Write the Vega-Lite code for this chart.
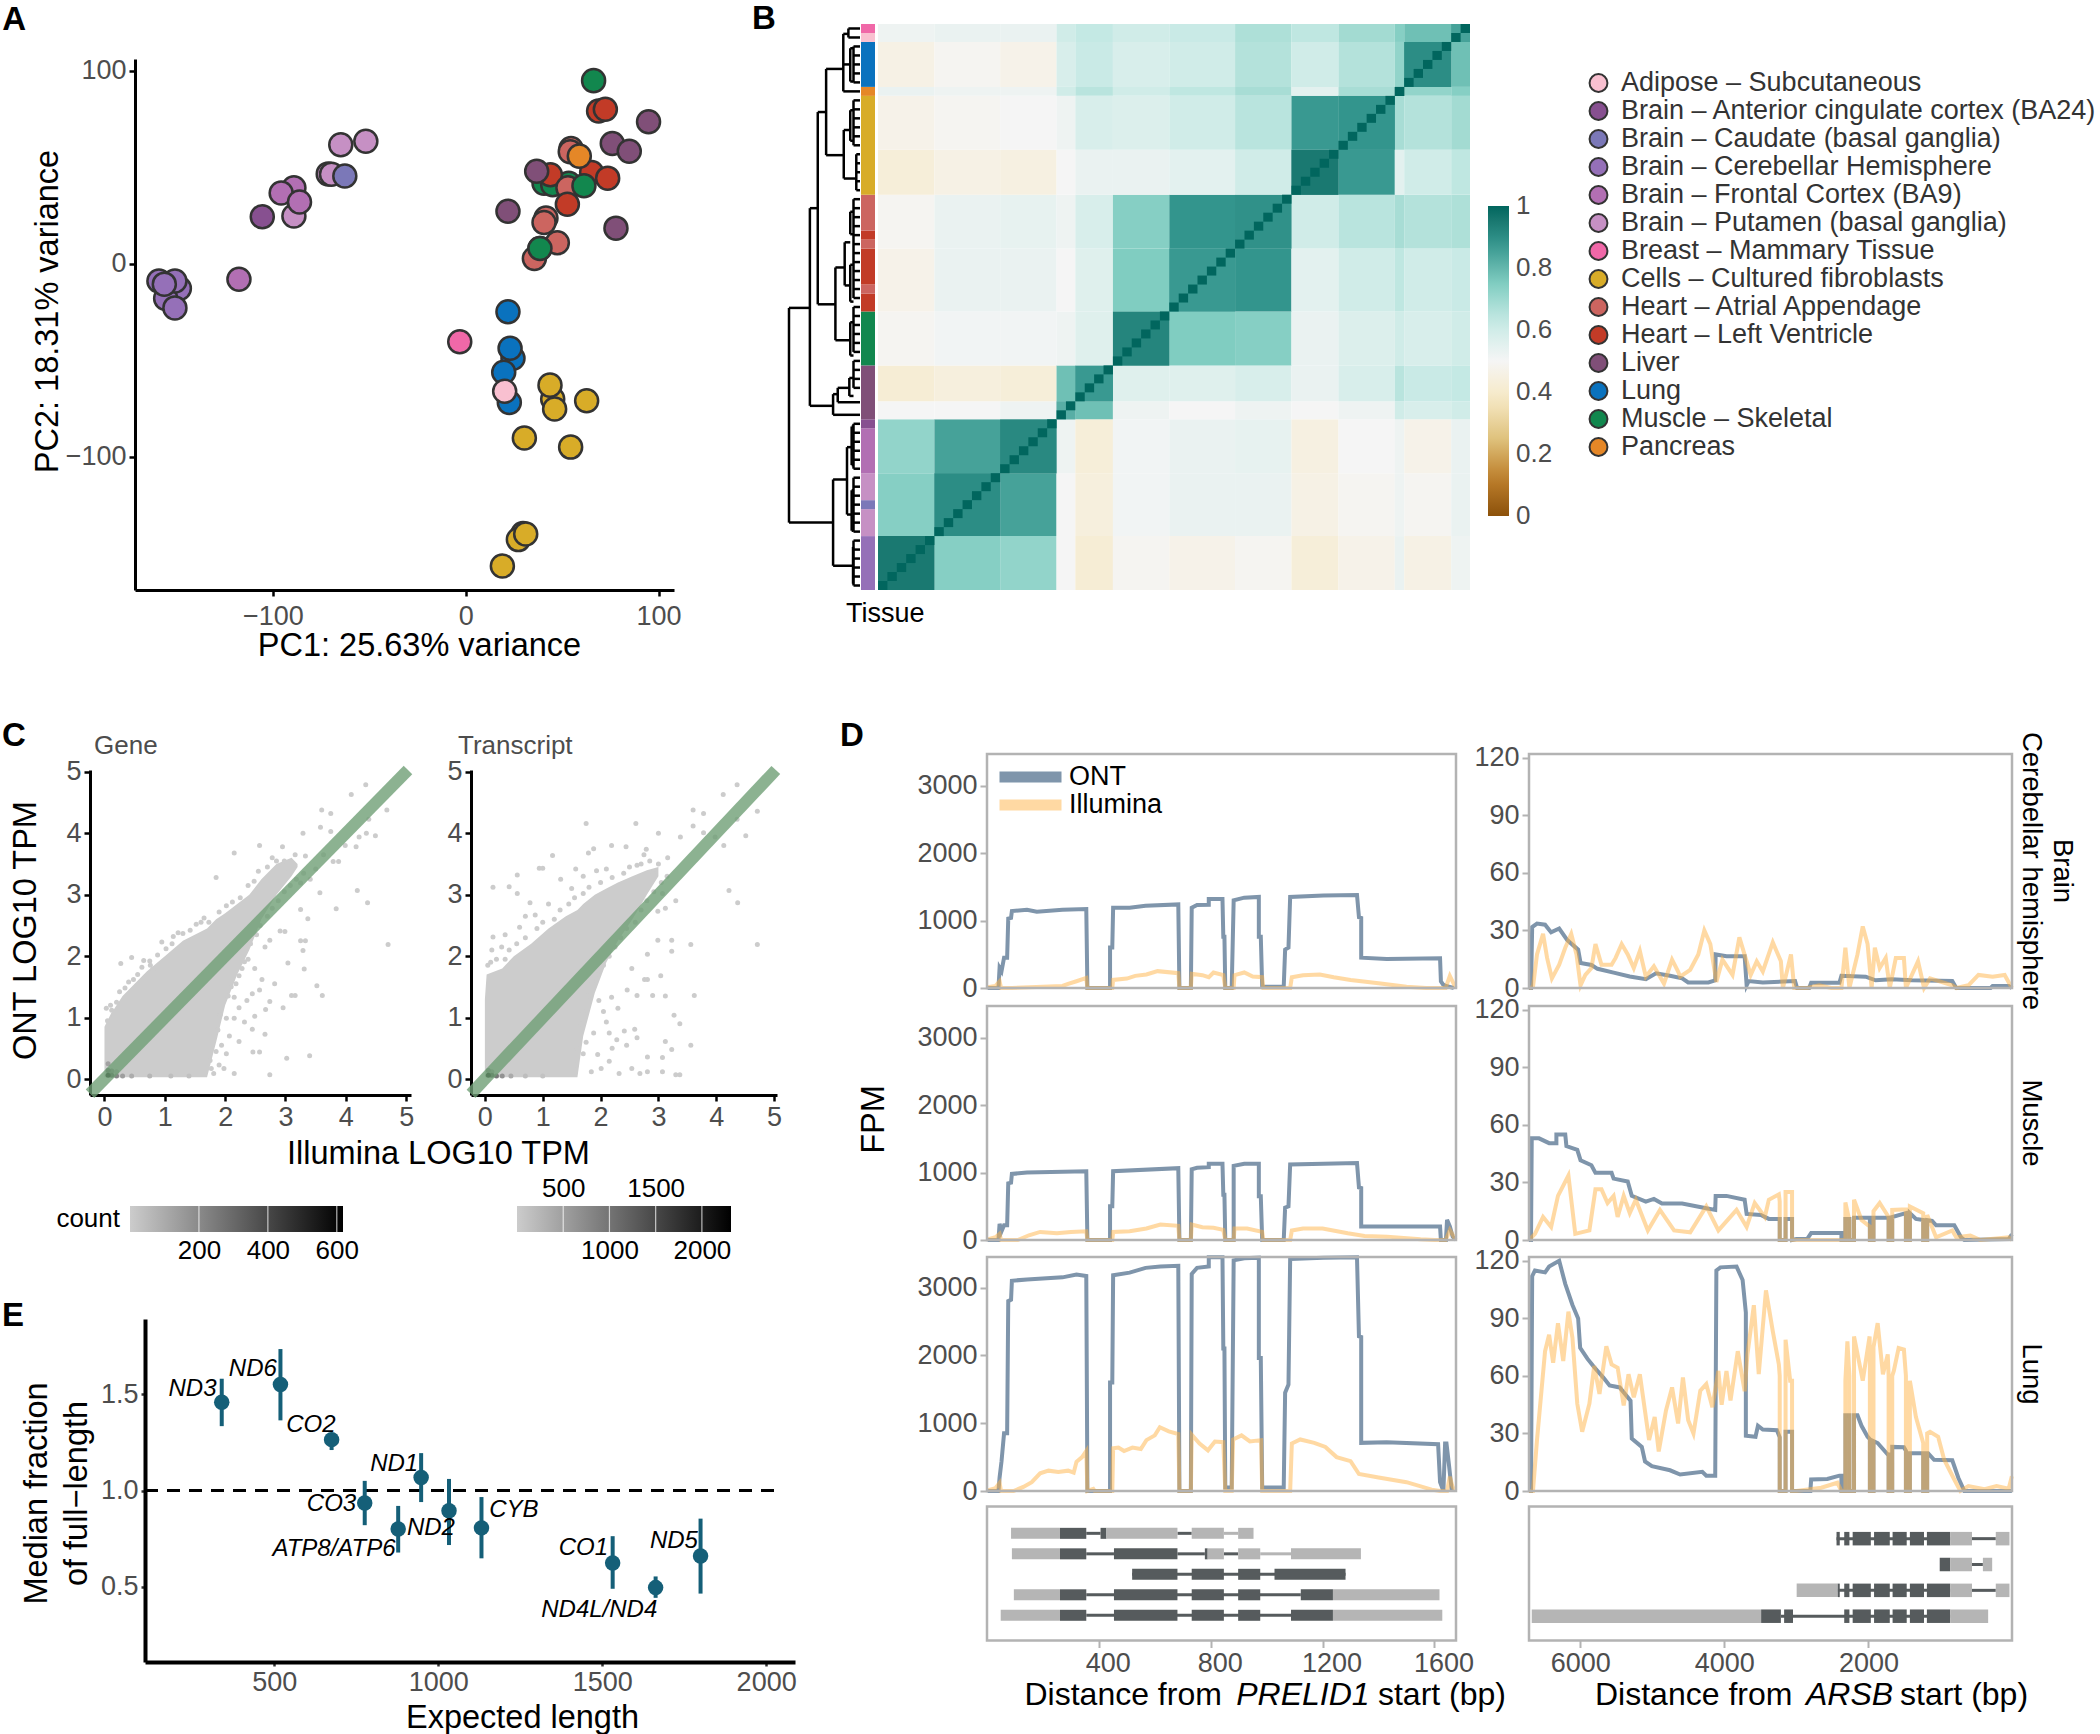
{"$schema":"https://vega.github.io/schema/vega-lite/v6.json","padding":0,"background":"white","width":2100,"height":1734,"autosize":{"type":"none"},
"config":{"font":"Liberation Sans","view":{"stroke":null},"axis":{"grid":false,"labelFontSize":27,"labelColor":"#4d4d4d","titleFontSize":32.5,"titleFontWeight":"normal","titleColor":"#000","tickColor":"#000","domainColor":"#000","domainWidth":3,"tickWidth":2.5,"tickSize":6,"labelPadding":3,"titleBaseline":"alphabetic","labelOverlap":false,"labelFlush":false}},
"resolve":{"scale":{"x":"independent","y":"independent","color":"independent","fill":"independent","strokeWidth":"independent"}},
"layer":[
{"layer":[
{"data":{"values":[
{"x":38.5,"y":7.9,"t":"Muscle – Skeletal"},{"x":66.3,"y":94.8,"t":"Muscle – Skeletal"},
{"x":68.9,"y":79.1,"t":"Heart – Left Ventricle"},{"x":72.4,"y":80,"t":"Heart – Left Ventricle"},
{"x":94.8,"y":73.5,"t":"Liver"},{"x":76,"y":62.2,"t":"Liver"},{"x":84.8,"y":58.2,"t":"Liver"},
{"x":54.6,"y":59.6,"t":"Heart – Atrial Appendage"},{"x":54.2,"y":58,"t":"Heart – Atrial Appendage"},
{"x":65.3,"y":47.2,"t":"Heart – Left Ventricle"},{"x":73.6,"y":44.3,"t":"Heart – Left Ventricle"},
{"x":40.6,"y":41.6,"t":"Muscle – Skeletal"},{"x":45.1,"y":40.9,"t":"Muscle – Skeletal"},{"x":53.4,"y":41.6,"t":"Muscle – Skeletal"},
{"x":43.9,"y":46.1,"t":"Heart – Left Ventricle"},{"x":53,"y":39.3,"t":"Heart – Atrial Appendage"},{"x":61.3,"y":40.4,"t":"Muscle – Skeletal"},
{"x":36.8,"y":47.9,"t":"Liver"},{"x":52.7,"y":30.8,"t":"Heart – Left Ventricle"},{"x":58.9,"y":55.7,"t":"Pancreas"},
{"x":21.9,"y":27.2,"t":"Liver"},{"x":77.9,"y":18.4,"t":"Liver"},
{"x":41.6,"y":23.6,"t":"Heart – Atrial Appendage"},{"x":40.6,"y":21.3,"t":"Heart – Atrial Appendage"},{"x":47.5,"y":10.8,"t":"Heart – Atrial Appendage"},{"x":35.6,"y":2.7,"t":"Heart – Atrial Appendage"},{"x":38.5,"y":7.9,"t":"Muscle – Skeletal"},
{"x":-51.8,"y":63.4,"t":"Brain – Putamen (basal ganglia)"},{"x":-64.8,"y":61.6,"t":"Brain – Putamen (basal ganglia)"},{"x":-71.3,"y":46.5,"t":"Brain – Putamen (basal ganglia)"},{"x":-69.6,"y":46.3,"t":"Brain – Putamen (basal ganglia)"},{"x":-62.7,"y":45.4,"t":"Brain – Caudate (basal ganglia)"},
{"x":-89.1,"y":24.7,"t":"Brain – Putamen (basal ganglia)"},{"x":-89.1,"y":39.3,"t":"Brain – Frontal Cortex (BA9)"},{"x":-95.7,"y":36.6,"t":"Brain – Frontal Cortex (BA9)"},{"x":-86.2,"y":31.9,"t":"Brain – Frontal Cortex (BA9)"},{"x":-117.6,"y":-8.1,"t":"Brain – Frontal Cortex (BA9)"},{"x":-105.5,"y":24.3,"t":"Brain – Anterior cingulate cortex (BA24)"},
{"x":-148.5,"y":-12.8,"t":"Brain – Cerebellar Hemisphere"},{"x":-155.6,"y":-18,"t":"Brain – Cerebellar Hemisphere"},{"x":-159.1,"y":-9,"t":"Brain – Cerebellar Hemisphere"},{"x":-150.8,"y":-9,"t":"Brain – Cerebellar Hemisphere"},{"x":-156.3,"y":-10.6,"t":"Brain – Cerebellar Hemisphere"},{"x":-150.8,"y":-22.9,"t":"Brain – Cerebellar Hemisphere"},
{"x":-3.1,"y":-40.4,"t":"Breast – Mammary Tissue"},{"x":21.9,"y":-24.9,"t":"Lung"},{"x":24.5,"y":-49,"t":"Lung"},{"x":23,"y":-43.8,"t":"Lung"},{"x":22.6,"y":-71.9,"t":"Lung"},{"x":19.7,"y":-56.2,"t":"Lung"},{"x":20.2,"y":-66.1,"t":"Adipose – Subcutaneous"},
{"x":45.1,"y":-70.1,"t":"Cells – Cultured fibroblasts"},{"x":43.7,"y":-62.9,"t":"Cells – Cultured fibroblasts"},{"x":46.1,"y":-75.3,"t":"Cells – Cultured fibroblasts"},{"x":62.7,"y":-71,"t":"Cells – Cultured fibroblasts"},{"x":30.4,"y":-90.3,"t":"Cells – Cultured fibroblasts"},{"x":54.4,"y":-95,"t":"Cells – Cultured fibroblasts"},{"x":29.7,"y":-139.8,"t":"Cells – Cultured fibroblasts"},{"x":27.3,"y":-142.9,"t":"Cells – Cultured fibroblasts"},{"x":31.1,"y":-140,"t":"Cells – Cultured fibroblasts"},{"x":19,"y":-156.6,"t":"Cells – Cultured fibroblasts"}
]},
"mark":{"type":"point","filled":true,"size":530,"stroke":"#333","strokeWidth":2.5,"opacity":1},
"encoding":{"x":{"field":"x","type":"quantitative","scale":{"domain":[-171.5,108],"range":[135,674],"nice":false,"zero":false},"axis":{"orient":"bottom","offset":-1144,"values":[-100,0,100],"labelPadding":7,"title":"PC1: 25.63% variance","titleX":419,"titleY":65}},
"y":{"field":"y","type":"quantitative","scale":{"domain":[-169,106],"range":[590,59],"nice":false,"zero":false},"axis":{"orient":"left","offset":-135,"values":[-100,0,100],"title":"PC2: 18.31% variance","titleX":-78,"titleY":311}},
"fill":{"field":"t","type":"nominal","scale":{"domain":["Adipose – Subcutaneous","Brain – Anterior cingulate cortex (BA24)","Brain – Caudate (basal ganglia)","Brain – Cerebellar Hemisphere","Brain – Frontal Cortex (BA9)","Brain – Putamen (basal ganglia)","Breast – Mammary Tissue","Cells – Cultured fibroblasts","Heart – Atrial Appendage","Heart – Left Ventricle","Liver","Lung","Muscle – Skeletal","Pancreas"],"range":["#F9C0D0","#875090","#7B78B8","#9570B8","#B26FB3","#C690C4","#F068A8","#D8AC28","#CC6560","#C23B27","#804F78","#0A72BE","#12874E","#E58727"]},
"legend":{"orient":"none","legendX":1585,"legendY":69,"title":null,"symbolSize":320,"symbolStrokeWidth":2,"symbolStrokeColor":"#333","symbolOpacity":1,"clipHeight":28,"rowPadding":0,"labelFontSize":27,"labelColor":"#333","labelOffset":9,"labelLimit":600}}}},
{"data":{"values":[{"x":-240.4,"y":121,"t":"A"}]},"mark":{"type":"text","align":"left","baseline":"alphabetic","fontSize":33,"fontWeight":"bold","color":"#000"},"encoding":{"x":{"field":"x","type":"quantitative"},"y":{"field":"y","type":"quantitative"},"text":{"field":"t"}}}
]},
{"layer":[
{"data":{"values":[{"a":153,"b":108,"y":31.6},{"a":153,"b":58,"y":55.5},{"a":108,"b":91,"y":20.5},{"a":108,"b":58,"y":42.5},{"a":91,"b":73,"y":9.8},{"a":91,"b":53,"y":31.2},{"a":73,"b":36,"y":5},{"a":73,"b":35,"y":14.6},{"a":36,"b":25,"y":1.1},{"a":36,"b":21,"y":4.5},{"a":36,"b":0,"y":7.5},{"a":25,"b":0,"y":0.5},{"a":25,"b":0,"y":1.5},{"a":35,"b":21,"y":11.8},{"a":35,"b":8,"y":17.2},{"a":53,"b":33,"y":27.1},{"a":53,"b":21,"y":35.2},{"a":33,"b":21,"y":24.3},{"a":33,"b":21,"y":29.1},{"a":58,"b":48,"y":41.2},{"a":58,"b":0,"y":43.5},{"a":48,"b":23,"y":40.5},{"a":48,"b":0,"y":42.1},{"a":58,"b":28,"y":50.7},{"a":58,"b":15,"y":60.3},{"a":28,"b":18,"y":47.1},{"a":28,"b":18,"y":54.6},
{"a":21,"b":14,"y":2.7},{"a":21,"b":14,"y":6.4},{"a":21,"b":14,"y":9.6},{"a":21,"b":14,"y":13},{"a":21,"b":14,"y":20.9},{"a":21,"b":14,"y":23.4},{"a":21,"b":14,"y":26.8},{"a":21,"b":14,"y":30.9},{"a":21,"b":14,"y":33.2},{"a":21,"b":14,"y":36.9},{"a":23,"b":14,"y":39.4},{"a":23,"b":14,"y":41.4},{"a":18,"b":14,"y":44.8},{"a":18,"b":14,"y":49.1},{"a":18,"b":14,"y":51.9},{"a":18,"b":14,"y":56.4},{"a":15,"b":14,"y":58.2},{"a":15,"b":14,"y":62.3},
{"a":14,"b":0,"y":2.5},{"a":14,"b":0,"y":3.5},{"a":14,"b":0,"y":4.5},{"a":14,"b":0,"y":5.5},{"a":14,"b":0,"y":6.5},{"a":14,"b":0,"y":8.5},{"a":14,"b":0,"y":9.5},{"a":14,"b":0,"y":10.5},{"a":14,"b":0,"y":11.5},{"a":14,"b":0,"y":12.5},{"a":14,"b":0,"y":13.5},{"a":8,"b":0,"y":14.5},{"a":8,"b":0,"y":15.5},{"a":8,"b":0,"y":16.5},{"a":8,"b":0,"y":17.5},{"a":8,"b":0,"y":18.5},{"a":14,"b":0,"y":19.5},{"a":14,"b":0,"y":20.5},{"a":14,"b":0,"y":21.5},{"a":14,"b":0,"y":22.5},{"a":14,"b":0,"y":23.5},{"a":14,"b":0,"y":24.5},{"a":14,"b":0,"y":25.5},{"a":14,"b":0,"y":26.5},{"a":14,"b":0,"y":27.5},{"a":14,"b":0,"y":28.5},{"a":14,"b":0,"y":29.5},{"a":14,"b":0,"y":30.5},{"a":14,"b":0,"y":31.5},{"a":14,"b":0,"y":32.5},{"a":14,"b":0,"y":33.5},{"a":14,"b":0,"y":34.5},{"a":14,"b":0,"y":35.5},{"a":14,"b":0,"y":36.5},{"a":14,"b":0,"y":37.5},{"a":14,"b":0,"y":38.5},{"a":14,"b":0,"y":39.5},{"a":14,"b":0,"y":40.5},{"a":14,"b":0,"y":44.5},{"a":14,"b":0,"y":45.5},{"a":14,"b":0,"y":46.5},{"a":14,"b":0,"y":47.5},{"a":14,"b":0,"y":48.5},{"a":14,"b":0,"y":49.5},{"a":14,"b":0,"y":50.5},{"a":14,"b":0,"y":51.5},{"a":14,"b":0,"y":52.5},{"a":14,"b":0,"y":53.5},{"a":14,"b":0,"y":54.5},{"a":14,"b":0,"y":55.5},{"a":14,"b":0,"y":56.5},{"a":14,"b":0,"y":57.5},{"a":14,"b":0,"y":58.5},{"a":14,"b":0,"y":59.5},{"a":14,"b":0,"y":60.5},{"a":14,"b":0,"y":61.5},{"a":14,"b":0,"y":62.5}]},
"mark":{"type":"rule","color":"#000","strokeWidth":2.5},"encoding":{"x":{"field":"a","type":"quantitative","scale":{"domain":[153,0],"range":[789,860],"nice":false,"zero":false},"axis":null},"x2":{"field":"b"},"y":{"field":"y","type":"quantitative","scale":{"domain":[0,63],"range":[24,590],"nice":false,"zero":false},"axis":null}}},
{"data":{"values":[{"h":153,"a":31.6,"b":55.5},{"h":108,"a":20.5,"b":42.5},{"h":91,"a":9.8,"b":31.2},{"h":73,"a":5,"b":14.6},{"h":36,"a":1.1,"b":7.5},{"h":25,"a":0.5,"b":1.5},{"h":21,"a":2.7,"b":6.4},{"h":35,"a":11.8,"b":17.2},{"h":21,"a":9.6,"b":13},{"h":8,"a":14.5,"b":18.5},{"h":53,"a":27.1,"b":35.2},{"h":33,"a":24.3,"b":29.1},{"h":21,"a":20.9,"b":23.4},{"h":21,"a":26.8,"b":30.9},{"h":21,"a":33.2,"b":36.9},{"h":58,"a":41.2,"b":43.5},{"h":48,"a":40.5,"b":42.1},{"h":23,"a":39.4,"b":41.4},{"h":58,"a":50.7,"b":60.3},{"h":28,"a":47.1,"b":54.6},{"h":18,"a":44.8,"b":49.1},{"h":18,"a":51.9,"b":56.4},{"h":15,"a":58.2,"b":62.3},{"h":14,"a":2.5,"b":6.5},{"h":14,"a":8.5,"b":13.5},{"h":14,"a":19.5,"b":30.5},{"h":14,"a":31.5,"b":36.5},{"h":14,"a":37.5,"b":40.5},{"h":14,"a":44.5,"b":49.5},{"h":14,"a":50.5,"b":56.5},{"h":14,"a":57.5,"b":62.5}]},
"mark":{"type":"rule","color":"#000","strokeWidth":2.5},"encoding":{"x":{"field":"h","type":"quantitative","axis":null},"y":{"field":"a","type":"quantitative","axis":null},"y2":{"field":"b"}}}
]},
{"data":{"values":[{"a":0,"b":6,"t":"Cerebellar"},{"a":6,"b":9,"t":"Putamen"},{"a":9,"b":10,"t":"Caudate"},{"a":10,"b":13,"t":"Putamen"},{"a":13,"b":18,"t":"Frontal"},{"a":18,"b":19,"t":"Anterior"},{"a":19,"b":25,"t":"Liver"},{"a":25,"b":31,"t":"Muscle"},{"a":31,"b":33,"t":"LV"},{"a":33,"b":34,"t":"AA"},{"a":34,"b":38,"t":"LV"},{"a":38,"b":39,"t":"AA"},{"a":39,"b":40,"t":"LV"},{"a":40,"b":44,"t":"AA"},{"a":44,"b":55,"t":"Fibroblasts"},{"a":55,"b":56,"t":"Pancreas"},{"a":56,"b":61,"t":"Lung"},{"a":61,"b":62,"t":"Adipose"},{"a":62,"b":63,"t":"Breast"}]},
"mark":{"type":"rect"},"encoding":{"x":{"datum":0,"type":"quantitative","scale":{"domain":[0,1],"range":[861,875],"nice":false},"axis":null},"x2":{"datum":1},"y":{"field":"a","type":"quantitative","scale":{"domain":[0,63],"range":[590,24],"nice":false},"axis":null},"y2":{"field":"b"},"fill":{"field":"t","type":"nominal","legend":null,"scale":{"domain":["Cerebellar","Putamen","Caudate","Frontal","Anterior","Liver","Muscle","LV","AA","Fibroblasts","Pancreas","Lung","Adipose","Breast"],"range":["#9570B8","#C690C4","#7B78B8","#B26FB3","#875090","#804F78","#12874E","#C23B27","#CC6560","#D8AC28","#E58727","#0A72BE","#F9C0D0","#F068A8"]}}}},
{"layer":[
{"data":{"name":"blocks","values":[
{"a":0,"b":6,"c":0,"d":6,"v":0.95},{"a":6,"b":13,"c":0,"d":6,"v":0.74},{"a":13,"b":19,"c":0,"d":6,"v":0.72},{"a":19,"b":21,"c":0,"d":6,"v":0.5},{"a":21,"b":25,"c":0,"d":6,"v":0.42},{"a":25,"b":31,"c":0,"d":6,"v":0.49},{"a":31,"b":38,"c":0,"d":6,"v":0.47},{"a":38,"b":44,"c":0,"d":6,"v":0.49},{"a":44,"b":49,"c":0,"d":6,"v":0.43},{"a":49,"b":55,"c":0,"d":6,"v":0.47},{"a":55,"b":56,"c":0,"d":6,"v":0.53},{"a":56,"b":61,"c":0,"d":6,"v":0.46},{"a":61,"b":63,"c":0,"d":6,"v":0.52},
{"a":6,"b":13,"c":6,"d":13,"v":0.9},{"a":13,"b":19,"c":6,"d":13,"v":0.85},{"a":19,"b":21,"c":6,"d":13,"v":0.5},{"a":21,"b":25,"c":6,"d":13,"v":0.44},{"a":25,"b":31,"c":6,"d":13,"v":0.51},{"a":31,"b":38,"c":6,"d":13,"v":0.53},{"a":38,"b":44,"c":6,"d":13,"v":0.53},{"a":44,"b":49,"c":6,"d":13,"v":0.46},{"a":49,"b":55,"c":6,"d":13,"v":0.49},{"a":55,"b":56,"c":6,"d":13,"v":0.52},{"a":56,"b":61,"c":6,"d":13,"v":0.49},{"a":61,"b":63,"c":6,"d":13,"v":0.53},
{"a":13,"b":19,"c":13,"d":19,"v":0.91},{"a":19,"b":21,"c":13,"d":19,"v":0.52},{"a":21,"b":25,"c":13,"d":19,"v":0.43},{"a":25,"b":31,"c":13,"d":19,"v":0.51},{"a":31,"b":38,"c":13,"d":19,"v":0.53},{"a":38,"b":44,"c":13,"d":19,"v":0.54},{"a":44,"b":49,"c":13,"d":19,"v":0.45},{"a":49,"b":55,"c":13,"d":19,"v":0.5},{"a":55,"b":56,"c":13,"d":19,"v":0.52},{"a":56,"b":61,"c":13,"d":19,"v":0.47},{"a":61,"b":63,"c":13,"d":19,"v":0.53},
{"a":19,"b":21,"c":19,"d":21,"v":0.82},{"a":21,"b":25,"c":19,"d":21,"v":0.78},{"a":25,"b":31,"c":19,"d":21,"v":0.52},{"a":31,"b":38,"c":19,"d":21,"v":0.5},{"a":38,"b":44,"c":19,"d":21,"v":0.52},{"a":44,"b":49,"c":19,"d":21,"v":0.5},{"a":49,"b":55,"c":19,"d":21,"v":0.52},{"a":55,"b":56,"c":19,"d":21,"v":0.6},{"a":56,"b":61,"c":19,"d":21,"v":0.58},{"a":61,"b":63,"c":19,"d":21,"v":0.6},
{"a":21,"b":25,"c":21,"d":25,"v":0.87},{"a":25,"b":31,"c":21,"d":25,"v":0.56},{"a":31,"b":38,"c":21,"d":25,"v":0.56},{"a":38,"b":44,"c":21,"d":25,"v":0.58},{"a":44,"b":49,"c":21,"d":25,"v":0.53},{"a":49,"b":55,"c":21,"d":25,"v":0.58},{"a":55,"b":56,"c":21,"d":25,"v":0.65},{"a":56,"b":61,"c":21,"d":25,"v":0.62},{"a":61,"b":63,"c":21,"d":25,"v":0.63},
{"a":25,"b":31,"c":25,"d":31,"v":0.92},{"a":31,"b":38,"c":25,"d":31,"v":0.75},{"a":38,"b":44,"c":25,"d":31,"v":0.74},{"a":44,"b":49,"c":25,"d":31,"v":0.53},{"a":49,"b":55,"c":25,"d":31,"v":0.57},{"a":55,"b":56,"c":25,"d":31,"v":0.6},{"a":56,"b":61,"c":25,"d":31,"v":0.58},{"a":61,"b":63,"c":25,"d":31,"v":0.6},
{"a":31,"b":38,"c":31,"d":38,"v":0.87},{"a":38,"b":44,"c":31,"d":38,"v":0.88},{"a":44,"b":49,"c":31,"d":38,"v":0.55},{"a":49,"b":55,"c":31,"d":38,"v":0.6},{"a":55,"b":56,"c":31,"d":38,"v":0.64},{"a":56,"b":61,"c":31,"d":38,"v":0.6},{"a":61,"b":63,"c":31,"d":38,"v":0.62},
{"a":38,"b":44,"c":38,"d":44,"v":0.89},{"a":44,"b":49,"c":38,"d":44,"v":0.6},{"a":49,"b":55,"c":38,"d":44,"v":0.65},{"a":55,"b":56,"c":38,"d":44,"v":0.68},{"a":56,"b":61,"c":38,"d":44,"v":0.66},{"a":61,"b":63,"c":38,"d":44,"v":0.67},
{"a":44,"b":49,"c":44,"d":49,"v":0.95},{"a":49,"b":55,"c":44,"d":49,"v":0.87},{"a":55,"b":56,"c":44,"d":49,"v":0.55},{"a":56,"b":61,"c":44,"d":49,"v":0.6},{"a":61,"b":63,"c":44,"d":49,"v":0.64},
{"a":49,"b":55,"c":49,"d":55,"v":0.88},{"a":55,"b":56,"c":49,"d":55,"v":0.68},{"a":56,"b":61,"c":49,"d":55,"v":0.66},{"a":61,"b":63,"c":49,"d":55,"v":0.69},
{"a":55,"b":56,"c":55,"d":56,"v":1},{"a":56,"b":61,"c":55,"d":56,"v":0.72},{"a":61,"b":63,"c":55,"d":56,"v":0.74},
{"a":56,"b":61,"c":56,"d":61,"v":0.9},{"a":61,"b":63,"c":56,"d":61,"v":0.78},
{"a":61,"b":63,"c":61,"d":63,"v":0.85}
]},
"mark":{"type":"rect"},"encoding":{"x":{"field":"a","type":"quantitative","scale":{"domain":[0,63],"range":[878,1470],"nice":false,"zero":false},"axis":null},"x2":{"field":"b"},"y":{"field":"c","type":"quantitative","scale":{"domain":[0,63],"range":[590,24],"nice":false,"zero":false},"axis":null},"y2":{"field":"d"},
"color":{"field":"v","type":"quantitative","scale":{"domain":[0,1],"range":["#8C510A","#BF812D","#DFC27D","#F6E8C3","#F5F5F5","#C7EAE5","#80CDC1","#35978F","#01665E"]},"legend":{"orient":"none","direction":"vertical","legendX":1488,"legendY":206,"title":null,"gradientLength":310,"gradientThickness":21,"values":[0,0.2,0.4,0.6,0.8,1],"format":"~g","labelFontSize":26,"labelColor":"#4d4d4d","labelOffset":7,"gradientStrokeWidth":0,"encode":{"labels":{"update":{"baseline":{"value":"middle"}}}}}}}},
{"data":{"name":"blocks"},"mark":{"type":"rect"},"encoding":{"x":{"field":"c","type":"quantitative","axis":null},"x2":{"field":"d"},"y":{"field":"a","type":"quantitative","axis":null},"y2":{"field":"b"},"color":{"field":"v","type":"quantitative"}}},
{"data":{"values":[{"i":0,"j":1,"v":1},{"i":1,"j":2,"v":1},{"i":2,"j":3,"v":1},{"i":3,"j":4,"v":1},{"i":4,"j":5,"v":1},{"i":5,"j":6,"v":1},{"i":6,"j":7,"v":1},{"i":7,"j":8,"v":1},{"i":8,"j":9,"v":1},{"i":9,"j":10,"v":1},{"i":10,"j":11,"v":1},{"i":11,"j":12,"v":1},{"i":12,"j":13,"v":1},{"i":13,"j":14,"v":1},{"i":14,"j":15,"v":1},{"i":15,"j":16,"v":1},{"i":16,"j":17,"v":1},{"i":17,"j":18,"v":1},{"i":18,"j":19,"v":1},{"i":19,"j":20,"v":1},{"i":20,"j":21,"v":1},{"i":21,"j":22,"v":1},{"i":22,"j":23,"v":1},{"i":23,"j":24,"v":1},{"i":24,"j":25,"v":1},{"i":25,"j":26,"v":1},{"i":26,"j":27,"v":1},{"i":27,"j":28,"v":1},{"i":28,"j":29,"v":1},{"i":29,"j":30,"v":1},{"i":30,"j":31,"v":1},{"i":31,"j":32,"v":1},{"i":32,"j":33,"v":1},{"i":33,"j":34,"v":1},{"i":34,"j":35,"v":1},{"i":35,"j":36,"v":1},{"i":36,"j":37,"v":1},{"i":37,"j":38,"v":1},{"i":38,"j":39,"v":1},{"i":39,"j":40,"v":1},{"i":40,"j":41,"v":1},{"i":41,"j":42,"v":1},{"i":42,"j":43,"v":1},{"i":43,"j":44,"v":1},{"i":44,"j":45,"v":1},{"i":45,"j":46,"v":1},{"i":46,"j":47,"v":1},{"i":47,"j":48,"v":1},{"i":48,"j":49,"v":1},{"i":49,"j":50,"v":1},{"i":50,"j":51,"v":1},{"i":51,"j":52,"v":1},{"i":52,"j":53,"v":1},{"i":53,"j":54,"v":1},{"i":54,"j":55,"v":1},{"i":55,"j":56,"v":1},{"i":56,"j":57,"v":1},{"i":57,"j":58,"v":1},{"i":58,"j":59,"v":1},{"i":59,"j":60,"v":1},{"i":60,"j":61,"v":1},{"i":61,"j":62,"v":1},{"i":62,"j":63,"v":1}]},
"mark":{"type":"rect"},"encoding":{"x":{"field":"i","type":"quantitative","axis":null},"x2":{"field":"j"},"y":{"field":"i","type":"quantitative","axis":null},"y2":{"field":"j"},"color":{"field":"v","type":"quantitative"}}},
{"data":{"values":[{"x":-13.4,"y":62.4,"t":"B"}]},"mark":{"type":"text","align":"left","baseline":"alphabetic","fontSize":33,"fontWeight":"bold","color":"#000"},"encoding":{"x":{"field":"x","type":"quantitative","axis":null},"y":{"field":"y","type":"quantitative","axis":null},"text":{"field":"t"}}},
{"data":{"values":[{"x":-3.41,"y":-3.56,"t":"Tissue"}]},"mark":{"type":"text","align":"left","baseline":"alphabetic","fontSize":27,"color":"#000"},"encoding":{"x":{"field":"x","type":"quantitative","axis":null},"y":{"field":"y","type":"quantitative","axis":null},"text":{"field":"t"}}}
]},
{"layer":[
{"data":{"values":[{"x":0,"u":0.85,"l":0.03},{"x":0.1,"u":1.05,"l":0.03},{"x":0.3,"u":1.35,"l":0.03},{"x":0.5,"u":1.55,"l":0.03},{"x":0.7,"u":1.75,"l":0.03},{"x":1,"u":2,"l":0.03},{"x":1.3,"u":2.25,"l":0.03},{"x":1.7,"u":2.45,"l":0.03},{"x":1.85,"u":2.6,"l":0.6},{"x":2,"u":2.7,"l":1.2},{"x":2.2,"u":2.85,"l":1.7},{"x":2.4,"u":3,"l":2.1},{"x":2.6,"u":3.25,"l":2.6},{"x":2.85,"u":3.5,"l":3},{"x":3.1,"u":3.6,"l":3.3},{"x":3.2,"u":3.5,"l":3.45}]},
"mark":{"type":"area","color":"#cccccc"},"encoding":{"x":{"field":"x","type":"quantitative","scale":{"domain":[-0.24,5.08],"range":[90,411],"nice":false,"zero":false},"axis":{"orient":"bottom","offset":-639,"values":[0,1,2,3,4,5],"format":"d","title":"Illumina LOG10 TPM","titleX":438,"titleY":68}},"y":{"field":"u","type":"quantitative","scale":{"domain":[-0.26,5.03],"range":[1095,770],"nice":false,"zero":false},"axis":{"orient":"left","offset":-90,"values":[0,1,2,3,4,5],"format":"d","title":"ONT LOG10 TPM","titleX":-55,"titleY":930}},"y2":{"field":"l"}}},
{"data":{"values":[{"x":0.05,"y":0.95,"n":1},{"x":0.12,"y":1.12,"n":1},{"x":0.2,"y":1.25,"n":1},{"x":0.25,"y":1.42,"n":1},{"x":0.4,"y":1.58,"n":1},{"x":0.55,"y":1.7,"n":1},{"x":0.62,"y":1.82,"n":1},{"x":0.75,"y":1.92,"n":1},{"x":0.88,"y":2.02,"n":1},{"x":1.02,"y":2.12,"n":1},{"x":1.12,"y":2.2,"n":1},{"x":1.22,"y":2.38,"n":1},{"x":1.42,"y":2.42,"n":1},{"x":1.6,"y":2.55,"n":1},{"x":1.65,"y":2.62,"n":1},{"x":1.9,"y":2.72,"n":1},{"x":2.02,"y":2.82,"n":1},{"x":2.12,"y":2.88,"n":1},{"x":2.25,"y":2.95,"n":1},{"x":2.38,"y":3.15,"n":1},{"x":2.48,"y":3.22,"n":1},{"x":2.55,"y":3.38,"n":1},{"x":2.7,"y":3.45,"n":1},{"x":2.78,"y":3.6,"n":1},{"x":2.85,"y":3.55,"n":1},{"x":2.98,"y":3.55,"n":1},{"x":3.05,"y":3.42,"n":1},{"x":1.75,"y":0.3,"n":1},{"x":1.85,"y":0.45,"n":1},{"x":1.88,"y":0.8,"n":1},{"x":1.92,"y":1.05,"n":1},{"x":2.05,"y":1.35,"n":1},{"x":2.1,"y":1.5,"n":1},{"x":2.18,"y":1.55,"n":1},{"x":2.28,"y":1.8,"n":1},{"x":2.38,"y":1.95,"n":1},{"x":2.42,"y":2.2,"n":1},{"x":2.52,"y":2.35,"n":1},{"x":2.58,"y":2.5,"n":1},{"x":2.7,"y":2.65,"n":1},{"x":2.78,"y":2.78,"n":1},{"x":2.88,"y":2.9,"n":1},{"x":2.98,"y":3.05,"n":1},{"x":3.08,"y":3.15,"n":1},{"x":3.18,"y":3.25,"n":1},{"x":3.3,"y":3.35,"n":1},
{"x":0.03,"y":1.15,"n":1},{"x":0.1,"y":1.2,"n":1},{"x":0.15,"y":1.05,"n":1},{"x":0.27,"y":1.88,"n":1},{"x":0.45,"y":1.98,"n":1},{"x":0.65,"y":1.93,"n":1},{"x":0.95,"y":2.23,"n":1},{"x":0.34,"y":1.48,"n":1},{"x":0.48,"y":1.62,"n":1},{"x":0.8,"y":1.79,"n":1},{"x":0.76,"y":1.85,"n":1},{"x":1.14,"y":2.32,"n":1},{"x":1.3,"y":2.37,"n":1},{"x":1.52,"y":2.52,"n":1},{"x":1.73,"y":2.55,"n":1},{"x":1.85,"y":3.28,"n":1},{"x":2.15,"y":3.68,"n":1},{"x":2.57,"y":3.8,"n":1},{"x":2.95,"y":3.78,"n":1},{"x":3.29,"y":4,"n":1},{"x":3.6,"y":4.38,"n":1},{"x":3.75,"y":4.32,"n":1},{"x":4.09,"y":4.63,"n":1},{"x":4.33,"y":4.79,"n":1},{"x":3.58,"y":4.1,"n":1},{"x":3.75,"y":4.03,"n":1},{"x":4.22,"y":3.94,"n":1},{"x":4.49,"y":3.96,"n":1},{"x":4.38,"y":4.23,"n":1},{"x":4.68,"y":4.38,"n":1},{"x":3.99,"y":3.8,"n":1},{"x":4.17,"y":3.78,"n":1},{"x":4.34,"y":4,"n":1},{"x":4.19,"y":3.07,"n":1},{"x":4.36,"y":2.87,"n":1},{"x":3.84,"y":2.77,"n":1},{"x":3.57,"y":3.03,"n":1},{"x":3.25,"y":2.76,"n":1},{"x":3.37,"y":2.61,"n":1},{"x":4.7,"y":2.19,"n":1},{"x":3.33,"y":2.25,"n":1},{"x":3.25,"y":2.25,"n":1},{"x":3.29,"y":2.09,"n":1},{"x":3.04,"y":1.89,"n":1},{"x":3.31,"y":1.79,"n":1},{"x":3.52,"y":1.52,"n":1},{"x":3.61,"y":1.36,"n":1},{"x":3.16,"y":1.36,"n":1},{"x":3.1,"y":1.36,"n":1},{"x":2.96,"y":1.16,"n":1},{"x":2.74,"y":1.26,"n":1},{"x":2.67,"y":1.13,"n":1},{"x":2.49,"y":1.02,"n":1},{"x":2.45,"y":1.39,"n":1},{"x":2.82,"y":1.55,"n":1},{"x":2.61,"y":1.62,"n":1},{"x":2.91,"y":2.41,"n":1},{"x":2.99,"y":2.4,"n":1},{"x":2.74,"y":2.26,"n":1},{"x":2.66,"y":2.15,"n":1},{"x":2.49,"y":1.8,"n":1},{"x":2.23,"y":1.68,"n":1},{"x":2.32,"y":1.91,"n":1},{"x":2.15,"y":1.33,"n":1},{"x":2.15,"y":0.99,"n":1},{"x":2.32,"y":0.93,"n":1},{"x":2.45,"y":0.81,"n":1},{"x":2.66,"y":0.73,"n":1},{"x":2.07,"y":0.7,"n":1},{"x":2.23,"y":0.61,"n":1},{"x":2.46,"y":0.44,"n":1},{"x":2.57,"y":0.44,"n":1},{"x":2.02,"y":0.41,"n":1},{"x":2.15,"y":0.09,"n":1},{"x":2.74,"y":0.07,"n":1},{"x":3.02,"y":0.34,"n":1},{"x":3.4,"y":0.38,"n":1},{"x":1.9,"y":0.23,"n":1},{"x":1.98,"y":0.17,"n":1},{"x":1.81,"y":0.09,"n":1},{"x":1.77,"y":0.17,"n":1},{"x":1.94,"y":0.55,"n":1},{"x":2.02,"y":0.99,"n":1},{"x":2.23,"y":1.16,"n":1},{"x":2.36,"y":1.28,"n":1},{"x":2.57,"y":1.45,"n":1},{"x":3.25,"y":3.19,"n":1},{"x":3.41,"y":3.25,"n":1},{"x":3.5,"y":3.42,"n":1},{"x":3.79,"y":3.54,"n":1},{"x":3.88,"y":3.54,"n":1},{"x":3.63,"y":3.65,"n":1},{"x":3.33,"y":3.63,"n":1},{"x":3.16,"y":3.65,"n":1},{"x":1.4,"y":0.05,"n":30},{"x":1.1,"y":0.05,"n":40},{"x":0.75,"y":0.05,"n":60},{"x":0.06,"y":0.25,"n":120},{"x":0.45,"y":0.05,"n":90},{"x":0.3,"y":0.05,"n":130},{"x":0.2,"y":0.12,"n":110},{"x":0.2,"y":0.05,"n":200},{"x":0.12,"y":0.13,"n":200},{"x":0.06,"y":0.14,"n":300},{"x":0.12,"y":0.06,"n":350},{"x":0.06,"y":0.06,"n":620}]},
"mark":{"type":"point","filled":true,"size":25,"opacity":1},"encoding":{"x":{"field":"x","type":"quantitative"},"y":{"field":"y","type":"quantitative"},"color":{"field":"n","type":"quantitative","scale":{"domain":[1,620],"range":["#cccccc","#000000"]},"legend":null}}},
{"data":{"values":[{"x":-0.24,"y":-0.24},{"x":5.03,"y":5.03}]},"mark":{"type":"line","color":"#6f9f76","opacity":0.8,"strokeWidth":12},"encoding":{"x":{"field":"x","type":"quantitative"},"y":{"field":"y","type":"quantitative"}}},
{"data":{"values":[{"x":-1.7,"y":5.42,"t":"C"}]},"mark":{"type":"text","align":"left","baseline":"alphabetic","fontSize":33,"fontWeight":"bold","color":"#000"},"encoding":{"x":{"field":"x","type":"quantitative"},"y":{"field":"y","type":"quantitative"},"text":{"field":"t"}}},
{"data":{"values":[{"x":-0.174,"y":5.29,"t":"Gene"}]},"mark":{"type":"text","align":"left","baseline":"alphabetic","fontSize":26,"color":"#4d4d4d"},"encoding":{"x":{"field":"x","type":"quantitative"},"y":{"field":"y","type":"quantitative"},"text":{"field":"t"}}}
]},
{"layer":[
{"data":{"values":[{"x":0,"u":1.3,"l":0.03},{"x":0.03,"u":1.7,"l":0.03},{"x":0.3,"u":1.8,"l":0.03},{"x":0.5,"u":2,"l":0.03},{"x":0.8,"u":2.2,"l":0.03},{"x":1.1,"u":2.45,"l":0.03},{"x":1.4,"u":2.65,"l":0.03},{"x":1.6,"u":2.75,"l":0.03},{"x":1.7,"u":2.85,"l":0.7},{"x":1.9,"u":3,"l":1.4},{"x":2.1,"u":3.1,"l":1.9},{"x":2.3,"u":3.2,"l":2.25},{"x":2.55,"u":3.3,"l":2.6},{"x":2.8,"u":3.4,"l":3},{"x":3,"u":3.45,"l":3.3}]},
"mark":{"type":"area","color":"#cccccc"},"encoding":{"x":{"field":"x","type":"quantitative","scale":{"domain":[-0.24,5.05],"range":[471,777],"nice":false,"zero":false},"axis":{"orient":"bottom","offset":-639,"values":[0,1,2,3,4,5],"format":"d","title":null}},"y":{"field":"u","type":"quantitative","scale":{"domain":[-0.26,5.03],"range":[1095,770],"nice":false,"zero":false},"axis":{"orient":"left","offset":-471,"values":[0,1,2,3,4,5],"format":"d","title":null}},"y2":{"field":"l"}}},
{"data":{"values":[{"x":0.05,"y":1.85,"n":1},{"x":0.1,"y":1.9,"n":1},{"x":0.2,"y":1.95,"n":1},{"x":0.35,"y":1.95,"n":1},{"x":0.42,"y":2.1,"n":1},{"x":0.55,"y":2.2,"n":1},{"x":0.7,"y":2.3,"n":1},{"x":0.9,"y":2.45,"n":1},{"x":1,"y":2.55,"n":1},{"x":1.2,"y":2.6,"n":1},{"x":1.3,"y":2.75,"n":1},{"x":1.45,"y":2.85,"n":1},{"x":1.55,"y":2.95,"n":1},{"x":1.7,"y":3.02,"n":1},{"x":1.8,"y":3.12,"n":1},{"x":2,"y":3.2,"n":1},{"x":2.2,"y":3.28,"n":1},{"x":2.4,"y":3.35,"n":1},{"x":2.5,"y":3.45,"n":1},{"x":2.7,"y":3.5,"n":1},{"x":2.85,"y":3.55,"n":1},{"x":3,"y":3.5,"n":1},{"x":2.75,"y":3.65,"n":1},{"x":1.7,"y":3.3,"n":1},{"x":1.5,"y":3.1,"n":1},{"x":1.1,"y":2.85,"n":1},{"x":0.7,"y":2.65,"n":1},{"x":0.35,"y":2.35,"n":1},{"x":0.12,"y":2.1,"n":1},{"x":1.6,"y":0.5,"n":1},{"x":1.65,"y":0.9,"n":1},{"x":1.7,"y":1.1,"n":1},{"x":1.78,"y":1.35,"n":1},{"x":1.85,"y":1.6,"n":1},{"x":1.95,"y":1.7,"n":1},{"x":2.05,"y":1.85,"n":1},{"x":2.15,"y":2,"n":1},{"x":2.25,"y":2.15,"n":1},{"x":2.35,"y":2.3,"n":1},{"x":2.45,"y":2.45,"n":1},{"x":2.6,"y":2.55,"n":1},{"x":2.7,"y":2.75,"n":1},{"x":2.8,"y":2.9,"n":1},{"x":2.92,"y":3.05,"n":1},{"x":3.05,"y":3.2,"n":1},{"x":3.15,"y":3.3,"n":1},{"x":1.75,"y":0.6,"n":1},{"x":1.95,"y":0.4,"n":1},{"x":2.2,"y":0.5,"n":1},{"x":2.05,"y":1.1,"n":1},{"x":2.3,"y":1.15,"n":1},{"x":2.15,"y":0.75,"n":1},{"x":2.45,"y":0.55,"n":1},
{"x":0.14,"y":2.31,"n":1},{"x":0.14,"y":3.12,"n":1},{"x":0.42,"y":3.13,"n":1},{"x":0.56,"y":3.32,"n":1},{"x":0.56,"y":3.02,"n":1},{"x":0.94,"y":3.43,"n":1},{"x":1,"y":3.43,"n":1},{"x":1.17,"y":3.64,"n":1},{"x":1.75,"y":4.16,"n":1},{"x":2.61,"y":4.16,"n":1},{"x":1.79,"y":3.68,"n":1},{"x":1.88,"y":3.75,"n":1},{"x":2.19,"y":3.8,"n":1},{"x":2.44,"y":3.78,"n":1},{"x":2.79,"y":3.74,"n":1},{"x":3,"y":4,"n":1},{"x":3.38,"y":3.94,"n":1},{"x":3.6,"y":4.38,"n":1},{"x":3.78,"y":4.32,"n":1},{"x":4.12,"y":4.63,"n":1},{"x":4.36,"y":4.79,"n":1},{"x":3.6,"y":4.12,"n":1},{"x":3.78,"y":4.01,"n":1},{"x":3.98,"y":3.94,"n":1},{"x":4.13,"y":3.8,"n":1},{"x":4.51,"y":3.96,"n":1},{"x":4.71,"y":4.36,"n":1},{"x":4.36,"y":4.23,"n":1},{"x":4.22,"y":3.07,"n":1},{"x":4.37,"y":2.87,"n":1},{"x":3.56,"y":2.19,"n":1},{"x":4.71,"y":2.19,"n":1},{"x":3.12,"y":2.78,"n":1},{"x":3.3,"y":2.9,"n":1},{"x":2.99,"y":2.26,"n":1},{"x":3.23,"y":2.26,"n":1},{"x":3.23,"y":2.08,"n":1},{"x":3.04,"y":1.68,"n":1},{"x":2.81,"y":1.62,"n":1},{"x":3.62,"y":1.36,"n":1},{"x":3.12,"y":1.35,"n":1},{"x":2.9,"y":1.36,"n":1},{"x":3.27,"y":1.04,"n":1},{"x":3.37,"y":0.9,"n":1},{"x":2.63,"y":0.67,"n":1},{"x":3.12,"y":0.61,"n":1},{"x":3.56,"y":0.55,"n":1},{"x":3.23,"y":0.48,"n":1},{"x":2.81,"y":0.36,"n":1},{"x":3.07,"y":0.35,"n":1},{"x":3.07,"y":0.12,"n":1},{"x":3.3,"y":0.07,"n":1},{"x":3.37,"y":0.07,"n":1},{"x":2.81,"y":0.12,"n":1},{"x":2.68,"y":0.09,"n":1},{"x":2.54,"y":0.17,"n":1},{"x":2.32,"y":0.09,"n":1},{"x":2.15,"y":0.29,"n":1},{"x":2.01,"y":0.17,"n":1},{"x":1.84,"y":0.12,"n":1},{"x":1.7,"y":0.41,"n":1},{"x":1.57,"y":0.23,"n":1},{"x":1.88,"y":0.75,"n":1},{"x":2.1,"y":0.93,"n":1},{"x":2.28,"y":0.64,"n":1},{"x":2.41,"y":0.78,"n":1},{"x":2.59,"y":0.81,"n":1},{"x":1.97,"y":1.28,"n":1},{"x":2.19,"y":1.33,"n":1},{"x":2.46,"y":1.45,"n":1},{"x":2.63,"y":1.36,"n":1},{"x":2.76,"y":1.62,"n":1},{"x":2.54,"y":1.8,"n":1},{"x":2.81,"y":2.03,"n":1},{"x":2.99,"y":2.73,"n":1},{"x":3.07,"y":3.02,"n":1},{"x":2.9,"y":3.36,"n":1},{"x":3.16,"y":3.6,"n":1},{"x":2.63,"y":3.48,"n":1},{"x":1.31,"y":3.25,"n":1},{"x":1.57,"y":3.42,"n":1},{"x":0.78,"y":2.87,"n":1},{"x":0.87,"y":2.67,"n":1},{"x":0.6,"y":2.47,"n":1},{"x":0.29,"y":2.15,"n":1},{"x":1.93,"y":3.39,"n":1},{"x":2.1,"y":3.42,"n":1},{"x":1,"y":0.05,"n":100},{"x":0.7,"y":0.05,"n":150},{"x":0.45,"y":0.05,"n":350},{"x":0.3,"y":0.05,"n":600},{"x":0.12,"y":0.12,"n":500},{"x":0.06,"y":0.14,"n":800},{"x":0.2,"y":0.05,"n":900},{"x":0.12,"y":0.06,"n":1400},{"x":0.06,"y":0.06,"n":2300}]},
"mark":{"type":"point","filled":true,"size":25,"opacity":1},"encoding":{"x":{"field":"x","type":"quantitative"},"y":{"field":"y","type":"quantitative"},"color":{"field":"n","type":"quantitative","scale":{"domain":[1,2300],"range":["#cccccc","#000000"]},"legend":null}}},
{"data":{"values":[{"x":-0.24,"y":-0.24},{"x":5.03,"y":5.03}]},"mark":{"type":"line","color":"#6f9f76","opacity":0.8,"strokeWidth":12},"encoding":{"x":{"field":"x","type":"quantitative"},"y":{"field":"y","type":"quantitative"}}},
{"data":{"values":[{"x":-0.465,"y":5.29,"t":"Transcript"}]},"mark":{"type":"text","align":"left","baseline":"alphabetic","fontSize":26,"color":"#4d4d4d"},"encoding":{"x":{"field":"x","type":"quantitative"},"y":{"field":"y","type":"quantitative"},"text":{"field":"t"}}}
]},
{"layer":[
{"data":{"values":[{"a":0,"b":618}]},"mark":{"type":"rect","color":{"x1":0,"y1":0,"x2":1,"y2":0,"gradient":"linear","stops":[{"offset":0,"color":"#cccccc"},{"offset":1,"color":"#000000"}]}},"encoding":{"x":{"field":"a","type":"quantitative","scale":{"domain":[0,618],"range":[130,343],"nice":false},"axis":{"orient":"bottom","offset":-502,"values":[200,400,600],"title":null,"domain":false,"ticks":false,"labelColor":"#000","labelFontSize":26,"labelPadding":5}},"x2":{"field":"b"},"y":{"datum":0,"type":"quantitative","scale":{"domain":[0,1],"range":[1232,1206],"nice":false},"axis":null},"y2":{"datum":1}}},
{"data":{"values":[{"v":200},{"v":400},{"v":600}]},"mark":{"type":"rule","color":"#fff","strokeWidth":1.2,"opacity":0.7},"encoding":{"x":{"field":"v","type":"quantitative"},"y":{"datum":0,"type":"quantitative","axis":null},"y2":{"datum":1}}},
{"data":{"values":[{"x":-29,"t":"count"}]},"mark":{"type":"text","align":"right","baseline":"middle","fontSize":26,"color":"#000"},"encoding":{"x":{"field":"x","type":"quantitative"},"y":{"datum":0.5,"type":"quantitative","axis":null},"text":{"field":"t"}}}
]},
{"layer":[
{"data":{"values":[{"a":0,"b":2315}]},"mark":{"type":"rect","color":{"x1":0,"y1":0,"x2":1,"y2":0,"gradient":"linear","stops":[{"offset":0,"color":"#cccccc"},{"offset":1,"color":"#000000"}]}},"encoding":{"x":{"field":"a","type":"quantitative","scale":{"domain":[0,2315],"range":[517,731],"nice":false},"axis":{"orient":"bottom","offset":-502,"values":[1000,2000],"format":"d","title":null,"domain":false,"ticks":false,"labelColor":"#000","labelFontSize":26,"labelPadding":5}},"x2":{"field":"b"},"y":{"datum":0,"type":"quantitative","scale":{"domain":[0,1],"range":[1232,1206],"nice":false},"axis":null},"y2":{"datum":1}}}
]},
{"data":{"values":[{"v":500},{"v":1000},{"v":1500},{"v":2000}]},"mark":{"type":"rule","color":"#fff","strokeWidth":1.2,"opacity":0.7},"encoding":{"x":{"field":"v","type":"quantitative","scale":{"domain":[0,2315],"range":[517,731],"nice":false},"axis":{"orient":"top","offset":-1206,"values":[500,1500],"format":"d","title":null,"domain":false,"ticks":false,"labelColor":"#000","labelFontSize":26,"labelPadding":5}},"y":{"datum":0,"type":"quantitative","scale":{"domain":[0,1],"range":[1232,1206],"nice":false},"axis":null},"y2":{"datum":1}}},
{"layer":[
{"data":{"values":[{"a":106,"b":2048,"y":1}]},"mark":{"type":"rule","color":"#000","strokeWidth":3,"strokeDash":[13,9]},"encoding":{"x":{"field":"a","type":"quantitative","scale":{"domain":[106,2088],"range":[145,795],"nice":false,"zero":false},"axis":{"orient":"bottom","offset":-72,"values":[500,1000,1500,2000],"format":"d","title":"Expected length","titleX":522,"titleY":65,"domainWidth":4,"tickColor":"#333","tickSize":4}},"x2":{"field":"b"},"y":{"field":"y","type":"quantitative","scale":{"domain":[0.11,1.89],"range":[1662,1319],"nice":false,"zero":false},"axis":{"orient":"left","offset":-145,"values":[0.5,1,1.5],"format":".1f","title":["Median fraction","of full−length"],"titleX":-99,"titleY":1493,"titleLineHeight":40,"domainWidth":4,"tickColor":"#333","tickSize":4}}}},
{"data":{"name":"mito","values":[{"x":340,"y":1.458,"lo":1.334,"hi":1.58,"g":"ND3","lx":324,"ly":1.528},{"x":519,"y":1.55,"lo":1.364,"hi":1.734,"g":"ND6","lx":508,"ly":1.631},{"x":675,"y":1.264,"lo":1.21,"hi":1.3,"g":"CO2","lx":687,"ly":1.34},{"x":776,"y":0.935,"lo":0.82,"hi":1.05,"g":"CO3","lx":750,"ly":0.928},{"x":878,"y":0.8,"lo":0.678,"hi":0.92,"g":"ATP8/ATP6","lx":870,"ly":0.695},{"x":948,"y":1.067,"lo":0.94,"hi":1.194,"g":"ND1","lx":939,"ly":1.137},{"x":1033,"y":0.895,"lo":0.717,"hi":1.06,"g":"ND2","lx":1051,"ly":0.806},{"x":1132,"y":0.806,"lo":0.648,"hi":0.966,"g":"CYB","lx":1306,"ly":0.9},{"x":1532,"y":0.624,"lo":0.49,"hi":0.763,"g":"CO1","lx":1518,"ly":0.7},{"x":1663,"y":0.496,"lo":0.443,"hi":0.554,"g":"ND4L/ND4","lx":1668,"ly":0.38},{"x":1800,"y":0.66,"lo":0.465,"hi":0.854,"g":"ND5","lx":1792,"ly":0.738}]},
"mark":{"type":"rule","color":"#155F78","strokeWidth":4},"encoding":{"x":{"field":"x","type":"quantitative"},"y":{"field":"lo","type":"quantitative"},"y2":{"field":"hi"}}},
{"data":{"name":"mito"},"mark":{"type":"point","filled":true,"size":240,"color":"#155F78","opacity":1},"encoding":{"x":{"field":"x","type":"quantitative"},"y":{"field":"y","type":"quantitative"}}},
{"data":{"name":"mito"},"mark":{"type":"text","align":"right","baseline":"middle","fontStyle":"italic","fontSize":24,"color":"#000"},"encoding":{"x":{"field":"lx","type":"quantitative"},"y":{"field":"ly","type":"quantitative"},"text":{"field":"g"}}},
{"data":{"values":[{"x":-330,"y":1.854,"t":"E"}]},"mark":{"type":"text","align":"left","baseline":"alphabetic","fontSize":33,"fontWeight":"bold","color":"#000"},"encoding":{"x":{"field":"x","type":"quantitative"},"y":{"field":"y","type":"quantitative"},"text":{"field":"t"}}}
]},
{"layer":[
{"data":{"values":[{"x":2,"y":0,"s":"ONT"},{"x":41,"y":0,"s":"ONT"},{"x":45,"y":300,"s":"ONT"},{"x":52,"y":250,"s":"ONT"},{"x":61,"y":450,"s":"ONT"},{"x":72,"y":450,"s":"ONT"},{"x":76,"y":1030,"s":"ONT"},{"x":86,"y":1040,"s":"ONT"},{"x":89,"y":1140,"s":"ONT"},{"x":143,"y":1160,"s":"ONT"},{"x":178,"y":1130,"s":"ONT"},{"x":270,"y":1160,"s":"ONT"},{"x":355,"y":1170,"s":"ONT"},{"x":359,"y":0,"s":"ONT"},{"x":440,"y":0,"s":"ONT"},{"x":440,"y":600,"s":"ONT"},{"x":448,"y":600,"s":"ONT"},{"x":451,"y":1190,"s":"ONT"},{"x":510,"y":1190,"s":"ONT"},{"x":567,"y":1220,"s":"ONT"},{"x":684,"y":1240,"s":"ONT"},{"x":688,"y":0,"s":"ONT"},{"x":729,"y":0,"s":"ONT"},{"x":732,"y":1190,"s":"ONT"},{"x":751,"y":1230,"s":"ONT"},{"x":793,"y":1235,"s":"ONT"},{"x":793,"y":1320,"s":"ONT"},{"x":842,"y":1320,"s":"ONT"},{"x":845,"y":760,"s":"ONT"},{"x":849,"y":760,"s":"ONT"},{"x":852,"y":0,"s":"ONT"},{"x":875,"y":0,"s":"ONT"},{"x":882,"y":1300,"s":"ONT"},{"x":920,"y":1340,"s":"ONT"},{"x":972,"y":1350,"s":"ONT"},{"x":972,"y":760,"s":"ONT"},{"x":979,"y":760,"s":"ONT"},{"x":984,"y":20,"s":"ONT"},{"x":1061,"y":20,"s":"ONT"},{"x":1066,"y":570,"s":"ONT"},{"x":1078,"y":600,"s":"ONT"},{"x":1084,"y":1350,"s":"ONT"},{"x":1203,"y":1370,"s":"ONT"},{"x":1323,"y":1380,"s":"ONT"},{"x":1330,"y":1050,"s":"ONT"},{"x":1338,"y":1040,"s":"ONT"},{"x":1338,"y":450,"s":"ONT"},{"x":1429,"y":430,"s":"ONT"},{"x":1620,"y":440,"s":"ONT"},{"x":1623,"y":100,"s":"ONT"},{"x":1631,"y":50,"s":"ONT"},{"x":1641,"y":30,"s":"ONT"},{"x":1669,"y":0,"s":"ONT"},
{"x":2,"y":10,"s":"Illumina"},{"x":30,"y":30,"s":"Illumina"},{"x":45,"y":100,"s":"Illumina"},{"x":50,"y":0,"s":"Illumina"},{"x":90,"y":0,"s":"Illumina"},{"x":200,"y":20,"s":"Illumina"},{"x":270,"y":30,"s":"Illumina"},{"x":290,"y":60,"s":"Illumina"},{"x":320,"y":100,"s":"Illumina"},{"x":355,"y":150,"s":"Illumina"},{"x":359,"y":0,"s":"Illumina"},{"x":448,"y":0,"s":"Illumina"},{"x":451,"y":120,"s":"Illumina"},{"x":500,"y":140,"s":"Illumina"},{"x":530,"y":180,"s":"Illumina"},{"x":570,"y":200,"s":"Illumina"},{"x":610,"y":250,"s":"Illumina"},{"x":684,"y":220,"s":"Illumina"},{"x":688,"y":0,"s":"Illumina"},{"x":729,"y":0,"s":"Illumina"},{"x":732,"y":210,"s":"Illumina"},{"x":770,"y":190,"s":"Illumina"},{"x":793,"y":160,"s":"Illumina"},{"x":810,"y":230,"s":"Illumina"},{"x":845,"y":190,"s":"Illumina"},{"x":852,"y":0,"s":"Illumina"},{"x":882,"y":0,"s":"Illumina"},{"x":885,"y":190,"s":"Illumina"},{"x":920,"y":230,"s":"Illumina"},{"x":950,"y":170,"s":"Illumina"},{"x":984,"y":160,"s":"Illumina"},{"x":988,"y":0,"s":"Illumina"},{"x":1084,"y":0,"s":"Illumina"},{"x":1090,"y":160,"s":"Illumina"},{"x":1130,"y":190,"s":"Illumina"},{"x":1190,"y":200,"s":"Illumina"},{"x":1240,"y":160,"s":"Illumina"},{"x":1300,"y":120,"s":"Illumina"},{"x":1400,"y":70,"s":"Illumina"},{"x":1500,"y":20,"s":"Illumina"},{"x":1570,"y":0,"s":"Illumina"},{"x":1640,"y":0,"s":"Illumina"},{"x":1655,"y":180,"s":"Illumina"},{"x":1676,"y":0,"s":"Illumina"}]},
"mark":{"type":"line","strokeWidth":4},"encoding":{"x":{"field":"x","type":"quantitative","scale":{"domain":[0,1677],"range":[987,1456],"nice":false,"zero":false},"axis":null},"y":{"field":"y","type":"quantitative","scale":{"domain":[0,3470],"range":[988,754],"nice":false},"axis":{"orient":"left","offset":-987,"values":[0,1000,2000,3000],"format":"d","title":null,"domain":false,"tickColor":"#b3b3b3","tickSize":7,"tickWidth":2}},"color":{"field":"s","type":"nominal","sort":null,"scale":{"domain":["ONT","Illumina"],"range":["#7F95AB","rgba(255,179,71,0.5)"]},"legend":{"orient":"none","legendX":994,"legendY":763,"title":null,"symbolType":"stroke","symbolSize":3844,"symbolStrokeWidth":11,"clipHeight":28,"rowPadding":0,"labelFontSize":27,"labelColor":"#000","labelOffset":2}}}},
{"mark":{"type":"rect","fill":"transparent","stroke":"#b3b3b3","strokeWidth":2.5},"data":{"values":[{"a":0,"b":1677,"c":0,"d":3470}]},"encoding":{"x":{"field":"a","type":"quantitative","axis":null},"x2":{"field":"b"},"y":{"field":"c","type":"quantitative"},"y2":{"field":"d"}}},
{"data":{"values":[{"x":-525.6,"y":3588,"t":"D"}]},"mark":{"type":"text","align":"left","baseline":"alphabetic","fontSize":33,"fontWeight":"bold","color":"#000"},"encoding":{"x":{"field":"x","type":"quantitative","axis":null},"y":{"field":"y","type":"quantitative"},"text":{"field":"t"}}}
]},
{"layer":[
{"data":{"values":[{"x":6710,"y":0,"s":"ONT"},{"x":6682,"y":0,"s":"ONT"},{"x":6666,"y":31.8,"s":"ONT"},{"x":6599,"y":33.6,"s":"ONT"},{"x":6487,"y":33,"s":"ONT"},{"x":6403,"y":29,"s":"ONT"},{"x":6291,"y":31,"s":"ONT"},{"x":6179,"y":25,"s":"ONT"},{"x":6028,"y":20,"s":"ONT"},{"x":5994,"y":13,"s":"ONT"},{"x":5843,"y":12,"s":"ONT"},{"x":5759,"y":10,"s":"ONT"},{"x":5536,"y":8,"s":"ONT"},{"x":5312,"y":6,"s":"ONT"},{"x":5088,"y":4.6,"s":"ONT"},{"x":4948,"y":7.7,"s":"ONT"},{"x":4753,"y":6.4,"s":"ONT"},{"x":4585,"y":5,"s":"ONT"},{"x":4501,"y":2.9,"s":"ONT"},{"x":4221,"y":2.9,"s":"ONT"},{"x":4126,"y":4,"s":"ONT"},{"x":4120,"y":17.5,"s":"ONT"},{"x":3969,"y":16.6,"s":"ONT"},{"x":3718,"y":16.6,"s":"ONT"},{"x":3690,"y":1.4,"s":"ONT"},{"x":3662,"y":3.6,"s":"ONT"},{"x":3466,"y":2.9,"s":"ONT"},{"x":3018,"y":3.6,"s":"ONT"},{"x":2990,"y":0,"s":"ONT"},{"x":2823,"y":0,"s":"ONT"},{"x":2795,"y":2.7,"s":"ONT"},{"x":2403,"y":2.7,"s":"ONT"},{"x":2375,"y":6.4,"s":"ONT"},{"x":2039,"y":5.9,"s":"ONT"},{"x":1900,"y":4,"s":"ONT"},{"x":1676,"y":4.6,"s":"ONT"},{"x":1396,"y":4,"s":"ONT"},{"x":837,"y":3.6,"s":"ONT"},{"x":781,"y":0,"s":"ONT"},{"x":305,"y":0,"s":"ONT"},{"x":277,"y":1,"s":"ONT"},{"x":54,"y":1,"s":"ONT"},{"x":10,"y":0,"s":"ONT"},
{"x":6710,"y":0,"s":"Illumina"},{"x":6655,"y":0.5,"s":"Illumina"},{"x":6599,"y":17.5,"s":"Illumina"},{"x":6515,"y":28.2,"s":"Illumina"},{"x":6459,"y":15.7,"s":"Illumina"},{"x":6392,"y":5,"s":"Illumina"},{"x":6291,"y":12.1,"s":"Illumina"},{"x":6207,"y":21,"s":"Illumina"},{"x":6124,"y":28.2,"s":"Illumina"},{"x":6051,"y":17.5,"s":"Illumina"},{"x":5995,"y":1.4,"s":"Illumina"},{"x":5928,"y":6.8,"s":"Illumina"},{"x":5844,"y":10.4,"s":"Illumina"},{"x":5788,"y":22.9,"s":"Illumina"},{"x":5704,"y":12.1,"s":"Illumina"},{"x":5564,"y":12.1,"s":"Illumina"},{"x":5508,"y":15.7,"s":"Illumina"},{"x":5424,"y":22.9,"s":"Illumina"},{"x":5340,"y":17.5,"s":"Illumina"},{"x":5256,"y":10.4,"s":"Illumina"},{"x":5172,"y":19.3,"s":"Illumina"},{"x":5089,"y":5.9,"s":"Illumina"},{"x":4977,"y":11.3,"s":"Illumina"},{"x":4837,"y":2.3,"s":"Illumina"},{"x":4725,"y":14.8,"s":"Illumina"},{"x":4641,"y":8.6,"s":"Illumina"},{"x":4613,"y":5.9,"s":"Illumina"},{"x":4473,"y":9.5,"s":"Illumina"},{"x":4361,"y":17.5,"s":"Illumina"},{"x":4277,"y":30,"s":"Illumina"},{"x":4194,"y":22.9,"s":"Illumina"},{"x":4110,"y":3.2,"s":"Illumina"},{"x":4026,"y":14.8,"s":"Illumina"},{"x":3886,"y":6.8,"s":"Illumina"},{"x":3791,"y":26.4,"s":"Illumina"},{"x":3690,"y":13.9,"s":"Illumina"},{"x":3634,"y":6.8,"s":"Illumina"},{"x":3550,"y":13.9,"s":"Illumina"},{"x":3466,"y":8.6,"s":"Illumina"},{"x":3327,"y":23.8,"s":"Illumina"},{"x":3215,"y":13.9,"s":"Illumina"},{"x":3187,"y":0,"s":"Illumina"},{"x":3075,"y":17.5,"s":"Illumina"},{"x":3030,"y":0,"s":"Illumina"},{"x":2851,"y":0,"s":"Illumina"},{"x":2683,"y":1.4,"s":"Illumina"},{"x":2515,"y":0,"s":"Illumina"},{"x":2375,"y":0,"s":"Illumina"},{"x":2320,"y":21,"s":"Illumina"},{"x":2264,"y":0,"s":"Illumina"},{"x":2152,"y":17.5,"s":"Illumina"},{"x":2079,"y":32.1,"s":"Illumina"},{"x":2012,"y":22.9,"s":"Illumina"},{"x":1956,"y":0,"s":"Illumina"},{"x":1911,"y":21,"s":"Illumina"},{"x":1844,"y":10.4,"s":"Illumina"},{"x":1760,"y":15.7,"s":"Illumina"},{"x":1704,"y":0,"s":"Illumina"},{"x":1620,"y":15.7,"s":"Illumina"},{"x":1508,"y":15.7,"s":"Illumina"},{"x":1480,"y":0,"s":"Illumina"},{"x":1312,"y":13.9,"s":"Illumina"},{"x":1228,"y":0,"s":"Illumina"},{"x":1145,"y":5,"s":"Illumina"},{"x":837,"y":1.4,"s":"Illumina"},{"x":781,"y":0,"s":"Illumina"},{"x":613,"y":1.4,"s":"Illumina"},{"x":473,"y":6.8,"s":"Illumina"},{"x":277,"y":5.9,"s":"Illumina"},{"x":110,"y":6.8,"s":"Illumina"},{"x":10,"y":0,"s":"Illumina"}]},
"mark":{"type":"line","strokeWidth":4},"encoding":{"x":{"field":"x","type":"quantitative","scale":{"domain":[6710,8],"range":[1529,2012],"nice":false,"zero":false},"axis":null},"y":{"field":"y","type":"quantitative","scale":{"domain":[0,122],"range":[988,754],"nice":false},"axis":{"orient":"left","offset":-1529,"values":[0,30,60,90,120],"title":null,"domain":false,"tickColor":"#b3b3b3","tickSize":7,"tickWidth":2}},"color":{"field":"s","type":"nominal","sort":null,"scale":{"domain":["ONT","Illumina"],"range":["#7F95AB","rgba(255,179,71,0.5)"]},"legend":null}}},
{"mark":{"type":"rect","fill":"transparent","stroke":"#b3b3b3","strokeWidth":2.5},"data":{"values":[{"a":6710,"b":8,"c":0,"d":122}]},"encoding":{"x":{"field":"a","type":"quantitative","axis":null},"x2":{"field":"b"},"y":{"field":"c","type":"quantitative"},"y2":{"field":"d"}}},
{"data":{"values":[{"x":-686,"y":61,"t":"Brain"},{"x":-256,"y":61,"t":"Cerebellar hemisphere"}]},"mark":{"type":"text","align":"center","baseline":"middle","angle":90,"fontSize":27.5,"color":"#000"},"encoding":{"x":{"field":"x","type":"quantitative","axis":null},"y":{"field":"y","type":"quantitative"},"text":{"field":"t"}}}
]},
{"layer":[
{"data":{"values":[{"x":2,"y":0,"s":"ONT"},{"x":41,"y":0,"s":"ONT"},{"x":45,"y":240,"s":"ONT"},{"x":52,"y":130,"s":"ONT"},{"x":61,"y":220,"s":"ONT"},{"x":72,"y":220,"s":"ONT"},{"x":76,"y":840,"s":"ONT"},{"x":86,"y":850,"s":"ONT"},{"x":89,"y":980,"s":"ONT"},{"x":143,"y":1000,"s":"ONT"},{"x":355,"y":1020,"s":"ONT"},{"x":359,"y":0,"s":"ONT"},{"x":440,"y":0,"s":"ONT"},{"x":440,"y":500,"s":"ONT"},{"x":448,"y":500,"s":"ONT"},{"x":451,"y":1020,"s":"ONT"},{"x":684,"y":1065,"s":"ONT"},{"x":688,"y":0,"s":"ONT"},{"x":729,"y":0,"s":"ONT"},{"x":732,"y":1050,"s":"ONT"},{"x":751,"y":1070,"s":"ONT"},{"x":793,"y":1080,"s":"ONT"},{"x":793,"y":1130,"s":"ONT"},{"x":842,"y":1130,"s":"ONT"},{"x":845,"y":670,"s":"ONT"},{"x":849,"y":670,"s":"ONT"},{"x":852,"y":0,"s":"ONT"},{"x":882,"y":0,"s":"ONT"},{"x":882,"y":1100,"s":"ONT"},{"x":920,"y":1130,"s":"ONT"},{"x":972,"y":1130,"s":"ONT"},{"x":972,"y":650,"s":"ONT"},{"x":979,"y":650,"s":"ONT"},{"x":984,"y":0,"s":"ONT"},{"x":1061,"y":0,"s":"ONT"},{"x":1066,"y":480,"s":"ONT"},{"x":1078,"y":500,"s":"ONT"},{"x":1084,"y":1120,"s":"ONT"},{"x":1203,"y":1130,"s":"ONT"},{"x":1323,"y":1140,"s":"ONT"},{"x":1330,"y":780,"s":"ONT"},{"x":1338,"y":770,"s":"ONT"},{"x":1338,"y":200,"s":"ONT"},{"x":1429,"y":200,"s":"ONT"},{"x":1620,"y":200,"s":"ONT"},{"x":1623,"y":0,"s":"ONT"},{"x":1641,"y":0,"s":"ONT"},{"x":1645,"y":300,"s":"ONT"},{"x":1655,"y":200,"s":"ONT"},{"x":1665,"y":50,"s":"ONT"},{"x":1676,"y":0,"s":"ONT"},
{"x":2,"y":10,"s":"Illumina"},{"x":30,"y":40,"s":"Illumina"},{"x":45,"y":90,"s":"Illumina"},{"x":50,"y":0,"s":"Illumina"},{"x":110,"y":0,"s":"Illumina"},{"x":150,"y":70,"s":"Illumina"},{"x":190,"y":120,"s":"Illumina"},{"x":250,"y":100,"s":"Illumina"},{"x":300,"y":120,"s":"Illumina"},{"x":355,"y":130,"s":"Illumina"},{"x":359,"y":0,"s":"Illumina"},{"x":448,"y":0,"s":"Illumina"},{"x":451,"y":120,"s":"Illumina"},{"x":510,"y":130,"s":"Illumina"},{"x":570,"y":170,"s":"Illumina"},{"x":620,"y":230,"s":"Illumina"},{"x":684,"y":210,"s":"Illumina"},{"x":688,"y":0,"s":"Illumina"},{"x":729,"y":0,"s":"Illumina"},{"x":732,"y":230,"s":"Illumina"},{"x":770,"y":190,"s":"Illumina"},{"x":810,"y":180,"s":"Illumina"},{"x":845,"y":150,"s":"Illumina"},{"x":852,"y":0,"s":"Illumina"},{"x":882,"y":0,"s":"Illumina"},{"x":885,"y":170,"s":"Illumina"},{"x":930,"y":170,"s":"Illumina"},{"x":984,"y":120,"s":"Illumina"},{"x":988,"y":0,"s":"Illumina"},{"x":1084,"y":0,"s":"Illumina"},{"x":1090,"y":140,"s":"Illumina"},{"x":1130,"y":170,"s":"Illumina"},{"x":1200,"y":170,"s":"Illumina"},{"x":1290,"y":100,"s":"Illumina"},{"x":1350,"y":60,"s":"Illumina"},{"x":1430,"y":50,"s":"Illumina"},{"x":1550,"y":10,"s":"Illumina"},{"x":1600,"y":0,"s":"Illumina"},{"x":1640,"y":0,"s":"Illumina"},{"x":1655,"y":150,"s":"Illumina"},{"x":1676,"y":0,"s":"Illumina"}]},
"mark":{"type":"line","strokeWidth":4},"encoding":{"x":{"field":"x","type":"quantitative","scale":{"domain":[0,1677],"range":[987,1456],"nice":false,"zero":false},"axis":null},"y":{"field":"y","type":"quantitative","scale":{"domain":[0,3470],"range":[1240,1006],"nice":false},"axis":{"orient":"left","offset":-987,"values":[0,1000,2000,3000],"format":"d","title":"FPM","titleX":-104,"titleY":1119,"domain":false,"tickColor":"#b3b3b3","tickSize":7,"tickWidth":2}},"color":{"field":"s","type":"nominal","sort":null,"scale":{"domain":["ONT","Illumina"],"range":["#7F95AB","rgba(255,179,71,0.5)"]},"legend":null}}},
{"mark":{"type":"rect","fill":"transparent","stroke":"#b3b3b3","strokeWidth":2.5},"data":{"values":[{"a":0,"b":1677,"c":0,"d":3470}]},"encoding":{"x":{"field":"a","type":"quantitative","axis":null},"x2":{"field":"b"},"y":{"field":"c","type":"quantitative"},"y2":{"field":"d"}}}
]},
{"layer":[
{"data":{"values":[{"x":6710,"y":0,"s":"ONT"},{"x":6682,"y":0,"s":"ONT"},{"x":6672,"y":53,"s":"ONT"},{"x":6571,"y":53,"s":"ONT"},{"x":6431,"y":50.5,"s":"ONT"},{"x":6330,"y":50.5,"s":"ONT"},{"x":6330,"y":55,"s":"ONT"},{"x":6207,"y":55,"s":"ONT"},{"x":6191,"y":49,"s":"ONT"},{"x":6040,"y":47,"s":"ONT"},{"x":5995,"y":41.6,"s":"ONT"},{"x":5844,"y":39,"s":"ONT"},{"x":5788,"y":35,"s":"ONT"},{"x":5564,"y":35,"s":"ONT"},{"x":5536,"y":32,"s":"ONT"},{"x":5340,"y":30.5,"s":"ONT"},{"x":5284,"y":23,"s":"ONT"},{"x":5089,"y":20,"s":"ONT"},{"x":4977,"y":21.4,"s":"ONT"},{"x":4865,"y":19,"s":"ONT"},{"x":4585,"y":19,"s":"ONT"},{"x":4250,"y":16.6,"s":"ONT"},{"x":4126,"y":15.7,"s":"ONT"},{"x":4120,"y":23,"s":"ONT"},{"x":3970,"y":23,"s":"ONT"},{"x":3718,"y":21,"s":"ONT"},{"x":3690,"y":13.6,"s":"ONT"},{"x":3494,"y":13,"s":"ONT"},{"x":3382,"y":11,"s":"ONT"},{"x":3231,"y":11,"s":"ONT"},{"x":3231,"y":0,"s":"ONT"},{"x":3150,"y":0,"s":"ONT"},{"x":3150,"y":11,"s":"ONT"},{"x":3060,"y":11,"s":"ONT"},{"x":3060,"y":0,"s":"ONT"},{"x":3000,"y":0.5,"s":"ONT"},{"x":2851,"y":0.5,"s":"ONT"},{"x":2795,"y":3.6,"s":"ONT"},{"x":2375,"y":3.6,"s":"ONT"},{"x":2375,"y":0,"s":"ONT"},{"x":2320,"y":0,"s":"ONT"},{"x":2320,"y":11,"s":"ONT"},{"x":2264,"y":11,"s":"ONT"},{"x":2264,"y":0,"s":"ONT"},{"x":2200,"y":0,"s":"ONT"},{"x":2200,"y":11.6,"s":"ONT"},{"x":1980,"y":11.6,"s":"ONT"},{"x":1980,"y":0,"s":"ONT"},{"x":1930,"y":0,"s":"ONT"},{"x":1930,"y":11.6,"s":"ONT"},{"x":1720,"y":11.6,"s":"ONT"},{"x":1720,"y":0,"s":"ONT"},{"x":1670,"y":0,"s":"ONT"},{"x":1670,"y":12,"s":"ONT"},{"x":1480,"y":14,"s":"ONT"},{"x":1480,"y":0,"s":"ONT"},{"x":1425,"y":0,"s":"ONT"},{"x":1425,"y":14,"s":"ONT"},{"x":1341,"y":11,"s":"ONT"},{"x":1240,"y":10.4,"s":"ONT"},{"x":1240,"y":0,"s":"ONT"},{"x":1185,"y":0,"s":"ONT"},{"x":1185,"y":10.4,"s":"ONT"},{"x":1117,"y":10,"s":"ONT"},{"x":1061,"y":7.7,"s":"ONT"},{"x":809,"y":7.7,"s":"ONT"},{"x":715,"y":1.4,"s":"ONT"},{"x":669,"y":0,"s":"ONT"},{"x":54,"y":0.5,"s":"ONT"},{"x":10,"y":3,"s":"ONT"},
{"x":6710,"y":0,"s":"Illumina"},{"x":6627,"y":3.2,"s":"Illumina"},{"x":6515,"y":12,"s":"Illumina"},{"x":6403,"y":6.8,"s":"Illumina"},{"x":6308,"y":23,"s":"Illumina"},{"x":6163,"y":33.6,"s":"Illumina"},{"x":6068,"y":3.2,"s":"Illumina"},{"x":5872,"y":5,"s":"Illumina"},{"x":5788,"y":26.4,"s":"Illumina"},{"x":5704,"y":26.4,"s":"Illumina"},{"x":5620,"y":19.3,"s":"Illumina"},{"x":5536,"y":23,"s":"Illumina"},{"x":5480,"y":12,"s":"Illumina"},{"x":5396,"y":23,"s":"Illumina"},{"x":5312,"y":14,"s":"Illumina"},{"x":5228,"y":21,"s":"Illumina"},{"x":5061,"y":5,"s":"Illumina"},{"x":4893,"y":15.7,"s":"Illumina"},{"x":4697,"y":5,"s":"Illumina"},{"x":4473,"y":4,"s":"Illumina"},{"x":4250,"y":17.5,"s":"Illumina"},{"x":4082,"y":5,"s":"Illumina"},{"x":3830,"y":15.7,"s":"Illumina"},{"x":3690,"y":6.8,"s":"Illumina"},{"x":3578,"y":19.3,"s":"Illumina"},{"x":3438,"y":12,"s":"Illumina"},{"x":3382,"y":21,"s":"Illumina"},{"x":3243,"y":23.8,"s":"Illumina"},{"x":3231,"y":20,"s":"Illumina"},{"x":3231,"y":0,"s":"Illumina"},{"x":3150,"y":0,"s":"Illumina"},{"x":3150,"y":25,"s":"Illumina"},{"x":3060,"y":25,"s":"Illumina"},{"x":3060,"y":0,"s":"Illumina"},{"x":3000,"y":0,"s":"Illumina"},{"x":2375,"y":0,"s":"Illumina"},{"x":2320,"y":0,"s":"Illumina"},{"x":2320,"y":19.6,"s":"Illumina"},{"x":2264,"y":10,"s":"Illumina"},{"x":2264,"y":0,"s":"Illumina"},{"x":2200,"y":0,"s":"Illumina"},{"x":2200,"y":21,"s":"Illumina"},{"x":2096,"y":10.4,"s":"Illumina"},{"x":1980,"y":7,"s":"Illumina"},{"x":1980,"y":0,"s":"Illumina"},{"x":1930,"y":0,"s":"Illumina"},{"x":1930,"y":15,"s":"Illumina"},{"x":1844,"y":19.3,"s":"Illumina"},{"x":1720,"y":12,"s":"Illumina"},{"x":1720,"y":0,"s":"Illumina"},{"x":1670,"y":0,"s":"Illumina"},{"x":1670,"y":15.7,"s":"Illumina"},{"x":1480,"y":16,"s":"Illumina"},{"x":1480,"y":0,"s":"Illumina"},{"x":1425,"y":0,"s":"Illumina"},{"x":1425,"y":17.5,"s":"Illumina"},{"x":1240,"y":14,"s":"Illumina"},{"x":1240,"y":0,"s":"Illumina"},{"x":1185,"y":0,"s":"Illumina"},{"x":1185,"y":13,"s":"Illumina"},{"x":1061,"y":1.4,"s":"Illumina"},{"x":837,"y":5,"s":"Illumina"},{"x":781,"y":1.4,"s":"Illumina"},{"x":585,"y":2.3,"s":"Illumina"},{"x":446,"y":0,"s":"Illumina"},{"x":54,"y":1.4,"s":"Illumina"},{"x":10,"y":0,"s":"Illumina"}]},
"mark":{"type":"line","strokeWidth":4},"encoding":{"x":{"field":"x","type":"quantitative","scale":{"domain":[6710,8],"range":[1529,2012],"nice":false,"zero":false},"axis":null},"y":{"field":"y","type":"quantitative","scale":{"domain":[0,122],"range":[1240,1006],"nice":false},"axis":{"orient":"left","offset":-1529,"values":[0,30,60,90,120],"title":null,"domain":false,"tickColor":"#b3b3b3","tickSize":7,"tickWidth":2}},"color":{"field":"s","type":"nominal","sort":null,"scale":{"domain":["ONT","Illumina"],"range":["#7F95AB","rgba(255,179,71,0.5)"]},"legend":null}}},
{"mark":{"type":"rect","fill":"transparent","stroke":"#b3b3b3","strokeWidth":2.5},"data":{"values":[{"a":6710,"b":8,"c":0,"d":122}]},"encoding":{"x":{"field":"a","type":"quantitative","axis":null},"x2":{"field":"b"},"y":{"field":"c","type":"quantitative"},"y2":{"field":"d"}}},
{"data":{"values":[{"x":-256,"y":61,"t":"Muscle"}]},"mark":{"type":"text","align":"center","baseline":"middle","angle":90,"fontSize":27.5,"color":"#000"},"encoding":{"x":{"field":"x","type":"quantitative","axis":null},"y":{"field":"y","type":"quantitative"},"text":{"field":"t"}}}
]},
{"layer":[
{"data":{"values":[{"x":2,"y":0,"s":"ONT"},{"x":41,"y":0,"s":"ONT"},{"x":45,"y":200,"s":"ONT"},{"x":52,"y":440,"s":"ONT"},{"x":61,"y":850,"s":"ONT"},{"x":72,"y":850,"s":"ONT"},{"x":76,"y":2800,"s":"ONT"},{"x":86,"y":2820,"s":"ONT"},{"x":89,"y":3100,"s":"ONT"},{"x":143,"y":3120,"s":"ONT"},{"x":270,"y":3150,"s":"ONT"},{"x":320,"y":3190,"s":"ONT"},{"x":355,"y":3170,"s":"ONT"},{"x":359,"y":0,"s":"ONT"},{"x":440,"y":0,"s":"ONT"},{"x":440,"y":1600,"s":"ONT"},{"x":448,"y":1600,"s":"ONT"},{"x":451,"y":3180,"s":"ONT"},{"x":510,"y":3220,"s":"ONT"},{"x":567,"y":3290,"s":"ONT"},{"x":620,"y":3310,"s":"ONT"},{"x":684,"y":3320,"s":"ONT"},{"x":688,"y":0,"s":"ONT"},{"x":729,"y":0,"s":"ONT"},{"x":732,"y":3200,"s":"ONT"},{"x":751,"y":3290,"s":"ONT"},{"x":793,"y":3310,"s":"ONT"},{"x":793,"y":3445,"s":"ONT"},{"x":842,"y":3445,"s":"ONT"},{"x":845,"y":2100,"s":"ONT"},{"x":849,"y":2100,"s":"ONT"},{"x":852,"y":50,"s":"ONT"},{"x":875,"y":50,"s":"ONT"},{"x":882,"y":3400,"s":"ONT"},{"x":920,"y":3430,"s":"ONT"},{"x":972,"y":3440,"s":"ONT"},{"x":972,"y":1960,"s":"ONT"},{"x":979,"y":1960,"s":"ONT"},{"x":984,"y":50,"s":"ONT"},{"x":1061,"y":50,"s":"ONT"},{"x":1066,"y":1450,"s":"ONT"},{"x":1078,"y":1570,"s":"ONT"},{"x":1084,"y":3420,"s":"ONT"},{"x":1203,"y":3440,"s":"ONT"},{"x":1323,"y":3445,"s":"ONT"},{"x":1330,"y":2280,"s":"ONT"},{"x":1338,"y":2270,"s":"ONT"},{"x":1338,"y":710,"s":"ONT"},{"x":1429,"y":720,"s":"ONT"},{"x":1613,"y":690,"s":"ONT"},{"x":1620,"y":130,"s":"ONT"},{"x":1632,"y":0,"s":"ONT"},{"x":1638,"y":700,"s":"ONT"},{"x":1643,"y":700,"s":"ONT"},{"x":1652,"y":380,"s":"ONT"},{"x":1662,"y":0,"s":"ONT"},
{"x":2,"y":10,"s":"Illumina"},{"x":30,"y":40,"s":"Illumina"},{"x":45,"y":120,"s":"Illumina"},{"x":50,"y":0,"s":"Illumina"},{"x":95,"y":0,"s":"Illumina"},{"x":130,"y":60,"s":"Illumina"},{"x":160,"y":130,"s":"Illumina"},{"x":190,"y":260,"s":"Illumina"},{"x":220,"y":300,"s":"Illumina"},{"x":255,"y":280,"s":"Illumina"},{"x":290,"y":300,"s":"Illumina"},{"x":310,"y":270,"s":"Illumina"},{"x":320,"y":430,"s":"Illumina"},{"x":340,"y":500,"s":"Illumina"},{"x":355,"y":590,"s":"Illumina"},{"x":359,"y":0,"s":"Illumina"},{"x":380,"y":30,"s":"Illumina"},{"x":385,"y":0,"s":"Illumina"},{"x":448,"y":0,"s":"Illumina"},{"x":451,"y":630,"s":"Illumina"},{"x":470,"y":640,"s":"Illumina"},{"x":490,"y":590,"s":"Illumina"},{"x":520,"y":640,"s":"Illumina"},{"x":550,"y":620,"s":"Illumina"},{"x":570,"y":750,"s":"Illumina"},{"x":600,"y":820,"s":"Illumina"},{"x":618,"y":940,"s":"Illumina"},{"x":650,"y":880,"s":"Illumina"},{"x":684,"y":840,"s":"Illumina"},{"x":688,"y":0,"s":"Illumina"},{"x":729,"y":0,"s":"Illumina"},{"x":732,"y":830,"s":"Illumina"},{"x":760,"y":700,"s":"Illumina"},{"x":790,"y":600,"s":"Illumina"},{"x":815,"y":730,"s":"Illumina"},{"x":845,"y":720,"s":"Illumina"},{"x":852,"y":0,"s":"Illumina"},{"x":875,"y":0,"s":"Illumina"},{"x":880,"y":760,"s":"Illumina"},{"x":910,"y":820,"s":"Illumina"},{"x":940,"y":730,"s":"Illumina"},{"x":980,"y":750,"s":"Illumina"},{"x":984,"y":0,"s":"Illumina"},{"x":1084,"y":0,"s":"Illumina"},{"x":1090,"y":700,"s":"Illumina"},{"x":1120,"y":760,"s":"Illumina"},{"x":1170,"y":710,"s":"Illumina"},{"x":1210,"y":650,"s":"Illumina"},{"x":1250,"y":500,"s":"Illumina"},{"x":1300,"y":440,"s":"Illumina"},{"x":1330,"y":250,"s":"Illumina"},{"x":1400,"y":200,"s":"Illumina"},{"x":1500,"y":130,"s":"Illumina"},{"x":1590,"y":20,"s":"Illumina"},{"x":1620,"y":0,"s":"Illumina"},{"x":1645,"y":0,"s":"Illumina"},{"x":1655,"y":210,"s":"Illumina"},{"x":1665,"y":60,"s":"Illumina"},{"x":1676,"y":0,"s":"Illumina"}]},
"mark":{"type":"line","strokeWidth":4},"encoding":{"x":{"field":"x","type":"quantitative","scale":{"domain":[0,1677],"range":[987,1456],"nice":false,"zero":false},"axis":null},"y":{"field":"y","type":"quantitative","scale":{"domain":[0,3450],"range":[1491,1257],"nice":false},"axis":{"orient":"left","offset":-987,"values":[0,1000,2000,3000],"format":"d","title":null,"domain":false,"tickColor":"#b3b3b3","tickSize":7,"tickWidth":2}},"color":{"field":"s","type":"nominal","sort":null,"scale":{"domain":["ONT","Illumina"],"range":["#7F95AB","rgba(255,179,71,0.5)"]},"legend":null}}},
{"mark":{"type":"rect","fill":"transparent","stroke":"#b3b3b3","strokeWidth":2.5},"data":{"values":[{"a":0,"b":1677,"c":0,"d":3450}]},"encoding":{"x":{"field":"a","type":"quantitative","axis":null},"x2":{"field":"b"},"y":{"field":"c","type":"quantitative"},"y2":{"field":"d"}}}
]},
{"layer":[
{"data":{"values":[{"x":6710,"y":0,"s":"ONT"},{"x":6682,"y":0,"s":"ONT"},{"x":6666,"y":112,"s":"ONT"},{"x":6627,"y":115,"s":"ONT"},{"x":6487,"y":114,"s":"ONT"},{"x":6431,"y":117,"s":"ONT"},{"x":6291,"y":120,"s":"ONT"},{"x":6207,"y":108,"s":"ONT"},{"x":6107,"y":97,"s":"ONT"},{"x":6028,"y":90,"s":"ONT"},{"x":6000,"y":74.6,"s":"ONT"},{"x":5900,"y":69,"s":"ONT"},{"x":5816,"y":65,"s":"ONT"},{"x":5676,"y":59,"s":"ONT"},{"x":5592,"y":55,"s":"ONT"},{"x":5452,"y":54,"s":"ONT"},{"x":5301,"y":47,"s":"ONT"},{"x":5284,"y":27.4,"s":"ONT"},{"x":5145,"y":23,"s":"ONT"},{"x":5100,"y":15.4,"s":"ONT"},{"x":5005,"y":12.9,"s":"ONT"},{"x":4753,"y":10.8,"s":"ONT"},{"x":4613,"y":8.6,"s":"ONT"},{"x":4305,"y":10,"s":"ONT"},{"x":4250,"y":8,"s":"ONT"},{"x":4126,"y":8,"s":"ONT"},{"x":4110,"y":115,"s":"ONT"},{"x":4054,"y":116.6,"s":"ONT"},{"x":3830,"y":117,"s":"ONT"},{"x":3746,"y":110,"s":"ONT"},{"x":3701,"y":93,"s":"ONT"},{"x":3701,"y":28.8,"s":"ONT"},{"x":3567,"y":28.3,"s":"ONT"},{"x":3533,"y":34,"s":"ONT"},{"x":3466,"y":32,"s":"ONT"},{"x":3270,"y":31.7,"s":"ONT"},{"x":3231,"y":28,"s":"ONT"},{"x":3231,"y":0,"s":"ONT"},{"x":3150,"y":0,"s":"ONT"},{"x":3150,"y":30.9,"s":"ONT"},{"x":3060,"y":30.9,"s":"ONT"},{"x":3060,"y":0,"s":"ONT"},{"x":2806,"y":0,"s":"ONT"},{"x":2795,"y":6,"s":"ONT"},{"x":2571,"y":6.3,"s":"ONT"},{"x":2403,"y":8,"s":"ONT"},{"x":2375,"y":8,"s":"ONT"},{"x":2375,"y":0,"s":"ONT"},{"x":2320,"y":0,"s":"ONT"},{"x":2320,"y":39.5,"s":"ONT"},{"x":2264,"y":39.5,"s":"ONT"},{"x":2264,"y":0,"s":"ONT"},{"x":2200,"y":0,"s":"ONT"},{"x":2200,"y":39.5,"s":"ONT"},{"x":2152,"y":39.5,"s":"ONT"},{"x":2096,"y":34,"s":"ONT"},{"x":2012,"y":28.3,"s":"ONT"},{"x":1980,"y":27,"s":"ONT"},{"x":1980,"y":0,"s":"ONT"},{"x":1930,"y":0,"s":"ONT"},{"x":1930,"y":26,"s":"ONT"},{"x":1872,"y":25,"s":"ONT"},{"x":1732,"y":19,"s":"ONT"},{"x":1720,"y":19,"s":"ONT"},{"x":1720,"y":0,"s":"ONT"},{"x":1670,"y":0,"s":"ONT"},{"x":1670,"y":23,"s":"ONT"},{"x":1508,"y":22.8,"s":"ONT"},{"x":1480,"y":21,"s":"ONT"},{"x":1480,"y":0,"s":"ONT"},{"x":1425,"y":0,"s":"ONT"},{"x":1425,"y":19.7,"s":"ONT"},{"x":1240,"y":19.7,"s":"ONT"},{"x":1240,"y":0,"s":"ONT"},{"x":1185,"y":0,"s":"ONT"},{"x":1185,"y":19.7,"s":"ONT"},{"x":1173,"y":19.7,"s":"ONT"},{"x":1089,"y":16.3,"s":"ONT"},{"x":837,"y":16,"s":"ONT"},{"x":753,"y":6.9,"s":"ONT"},{"x":669,"y":0,"s":"ONT"},{"x":10,"y":0,"s":"ONT"},
{"x":6710,"y":0,"s":"Illumina"},{"x":6655,"y":0,"s":"Illumina"},{"x":6599,"y":26.6,"s":"Illumina"},{"x":6487,"y":72.9,"s":"Illumina"},{"x":6431,"y":81.5,"s":"Illumina"},{"x":6375,"y":66.9,"s":"Illumina"},{"x":6308,"y":87.5,"s":"Illumina"},{"x":6235,"y":67.8,"s":"Illumina"},{"x":6163,"y":93.5,"s":"Illumina"},{"x":6107,"y":79.8,"s":"Illumina"},{"x":6040,"y":45.5,"s":"Illumina"},{"x":5972,"y":30.9,"s":"Illumina"},{"x":5872,"y":45.5,"s":"Illumina"},{"x":5805,"y":65.2,"s":"Illumina"},{"x":5732,"y":50.6,"s":"Illumina"},{"x":5637,"y":75.5,"s":"Illumina"},{"x":5564,"y":66,"s":"Illumina"},{"x":5480,"y":64.3,"s":"Illumina"},{"x":5396,"y":44.6,"s":"Illumina"},{"x":5329,"y":60.9,"s":"Illumina"},{"x":5256,"y":48.9,"s":"Illumina"},{"x":5172,"y":60.9,"s":"Illumina"},{"x":5044,"y":26.6,"s":"Illumina"},{"x":4966,"y":38.6,"s":"Illumina"},{"x":4910,"y":20.6,"s":"Illumina"},{"x":4809,"y":42,"s":"Illumina"},{"x":4725,"y":54,"s":"Illumina"},{"x":4641,"y":35.2,"s":"Illumina"},{"x":4574,"y":59.2,"s":"Illumina"},{"x":4501,"y":36.9,"s":"Illumina"},{"x":4428,"y":30,"s":"Illumina"},{"x":4333,"y":52.3,"s":"Illumina"},{"x":4250,"y":55.7,"s":"Illumina"},{"x":4166,"y":43.7,"s":"Illumina"},{"x":4082,"y":62.6,"s":"Illumina"},{"x":4037,"y":45,"s":"Illumina"},{"x":3970,"y":62.6,"s":"Illumina"},{"x":3914,"y":47.2,"s":"Illumina"},{"x":3813,"y":72.9,"s":"Illumina"},{"x":3718,"y":52,"s":"Illumina"},{"x":3679,"y":71.2,"s":"Illumina"},{"x":3590,"y":96.9,"s":"Illumina"},{"x":3522,"y":60.9,"s":"Illumina"},{"x":3422,"y":104.6,"s":"Illumina"},{"x":3327,"y":83.2,"s":"Illumina"},{"x":3243,"y":66,"s":"Illumina"},{"x":3231,"y":60,"s":"Illumina"},{"x":3231,"y":0,"s":"Illumina"},{"x":3150,"y":0,"s":"Illumina"},{"x":3150,"y":78.9,"s":"Illumina"},{"x":3086,"y":57.5,"s":"Illumina"},{"x":3060,"y":57.5,"s":"Illumina"},{"x":3060,"y":0,"s":"Illumina"},{"x":3000,"y":0,"s":"Illumina"},{"x":2655,"y":1.7,"s":"Illumina"},{"x":2431,"y":4.3,"s":"Illumina"},{"x":2375,"y":0,"s":"Illumina"},{"x":2320,"y":0,"s":"Illumina"},{"x":2320,"y":57.5,"s":"Illumina"},{"x":2292,"y":78,"s":"Illumina"},{"x":2264,"y":60,"s":"Illumina"},{"x":2264,"y":0,"s":"Illumina"},{"x":2200,"y":0,"s":"Illumina"},{"x":2200,"y":80.6,"s":"Illumina"},{"x":2079,"y":57.5,"s":"Illumina"},{"x":1984,"y":80.6,"s":"Illumina"},{"x":1980,"y":70,"s":"Illumina"},{"x":1980,"y":0,"s":"Illumina"},{"x":1930,"y":0,"s":"Illumina"},{"x":1930,"y":75,"s":"Illumina"},{"x":1872,"y":87.5,"s":"Illumina"},{"x":1799,"y":60.9,"s":"Illumina"},{"x":1732,"y":71.2,"s":"Illumina"},{"x":1720,"y":60,"s":"Illumina"},{"x":1720,"y":0,"s":"Illumina"},{"x":1670,"y":0,"s":"Illumina"},{"x":1670,"y":60,"s":"Illumina"},{"x":1648,"y":62.6,"s":"Illumina"},{"x":1581,"y":74.6,"s":"Illumina"},{"x":1508,"y":73.8,"s":"Illumina"},{"x":1480,"y":60,"s":"Illumina"},{"x":1480,"y":0,"s":"Illumina"},{"x":1425,"y":0,"s":"Illumina"},{"x":1425,"y":57.5,"s":"Illumina"},{"x":1341,"y":38.6,"s":"Illumina"},{"x":1240,"y":25,"s":"Illumina"},{"x":1240,"y":0,"s":"Illumina"},{"x":1185,"y":0,"s":"Illumina"},{"x":1185,"y":30,"s":"Illumina"},{"x":1145,"y":30.9,"s":"Illumina"},{"x":1033,"y":28.3,"s":"Illumina"},{"x":949,"y":16.3,"s":"Illumina"},{"x":809,"y":6,"s":"Illumina"},{"x":725,"y":0,"s":"Illumina"},{"x":613,"y":2.6,"s":"Illumina"},{"x":389,"y":0.9,"s":"Illumina"},{"x":222,"y":2.6,"s":"Illumina"},{"x":54,"y":1.2,"s":"Illumina"},{"x":10,"y":7.7,"s":"Illumina"}]},
"mark":{"type":"line","strokeWidth":4},"encoding":{"x":{"field":"x","type":"quantitative","scale":{"domain":[6710,8],"range":[1529,2012],"nice":false,"zero":false},"axis":null},"y":{"field":"y","type":"quantitative","scale":{"domain":[0,122],"range":[1491,1257],"nice":false},"axis":{"orient":"left","offset":-1529,"values":[0,30,60,90,120],"title":null,"domain":false,"tickColor":"#b3b3b3","tickSize":7,"tickWidth":2}},"color":{"field":"s","type":"nominal","sort":null,"scale":{"domain":["ONT","Illumina"],"range":["#7F95AB","rgba(255,179,71,0.5)"]},"legend":null}}},
{"mark":{"type":"rect","fill":"transparent","stroke":"#b3b3b3","strokeWidth":2.5},"data":{"values":[{"a":6710,"b":8,"c":0,"d":122}]},"encoding":{"x":{"field":"a","type":"quantitative","axis":null},"x2":{"field":"b"},"y":{"field":"c","type":"quantitative"},"y2":{"field":"d"}}},
{"data":{"values":[{"x":-256,"y":61,"t":"Lung"}]},"mark":{"type":"text","align":"center","baseline":"middle","angle":90,"fontSize":27.5,"color":"#000"},"encoding":{"x":{"field":"x","type":"quantitative","axis":null},"y":{"field":"y","type":"quantitative"},"text":{"field":"t"}}}
]},
{"layer":[
{"data":{"values":[{"a":355,"b":406,"r":1,"k":"i"},{"a":681,"b":732,"r":1,"k":"i"},{"a":847,"b":898,"r":1,"k":"l"},{"a":86,"b":261,"r":1,"k":"u"},{"a":261,"b":355,"r":1,"k":"c"},{"a":406,"b":427,"r":1,"k":"c"},{"a":427,"b":681,"r":1,"k":"u"},{"a":732,"b":847,"r":1,"k":"u"},{"a":898,"b":953,"r":1,"k":"u"},
{"a":355,"b":454,"r":2,"k":"i"},{"a":681,"b":779,"r":2,"k":"i"},{"a":847,"b":898,"r":2,"k":"i"},{"a":977,"b":1087,"r":2,"k":"l"},{"a":89,"b":261,"r":2,"k":"u"},{"a":261,"b":355,"r":2,"k":"c"},{"a":454,"b":681,"r":2,"k":"c"},{"a":779,"b":789,"r":2,"k":"c"},{"a":789,"b":847,"r":2,"k":"u"},{"a":898,"b":977,"r":2,"k":"u"},{"a":1087,"b":1337,"r":2,"k":"u"},
{"a":519,"b":1282,"r":3,"k":"i"},{"a":519,"b":681,"r":3,"k":"c"},{"a":732,"b":847,"r":3,"k":"c"},{"a":898,"b":977,"r":3,"k":"c"},{"a":1028,"b":1282,"r":3,"k":"c"},
{"a":355,"b":1122,"r":4,"k":"i"},{"a":96,"b":261,"r":4,"k":"u"},{"a":261,"b":355,"r":4,"k":"c"},{"a":454,"b":681,"r":4,"k":"c"},{"a":732,"b":847,"r":4,"k":"c"},{"a":898,"b":977,"r":4,"k":"c"},{"a":1122,"b":1237,"r":4,"k":"c"},{"a":1237,"b":1618,"r":4,"k":"u"},
{"a":355,"b":1087,"r":5,"k":"i"},{"a":49,"b":261,"r":5,"k":"u"},{"a":261,"b":355,"r":5,"k":"c"},{"a":454,"b":681,"r":5,"k":"c"},{"a":732,"b":847,"r":5,"k":"c"},{"a":898,"b":977,"r":5,"k":"c"},{"a":1087,"b":1237,"r":5,"k":"c"},{"a":1237,"b":1628,"r":5,"k":"u"}]},
"mark":{"type":"rule","strokeCap":"butt"},"encoding":{"x":{"field":"a","type":"quantitative","scale":{"domain":[0,1677],"range":[987,1456],"nice":false,"zero":false},"axis":{"orient":"bottom","offset":-93.5,"values":[400,800,1200,1600],"format":"d","labelOffset":9,"title":null,"domain":false,"tickColor":"#b3b3b3","tickSize":7,"tickWidth":2}},"x2":{"field":"b"},"y":{"field":"r","type":"quantitative","scale":{"domain":[-0.31,6.23],"range":[1506.5,1640.5],"nice":false,"zero":false},"axis":null},"color":{"field":"k","type":"nominal","legend":null,"scale":{"domain":["i","l","u","c"],"range":["#565b5d","#b5b5b5","#b5b5b5","#565b5d"]}},"strokeWidth":{"field":"k","type":"nominal","legend":null,"scale":{"type":"ordinal","domain":["i","l","u","c"],"range":[3,3,11,11]}}}},
{"mark":{"type":"rect","fill":"transparent","stroke":"#b3b3b3","strokeWidth":2.5},"data":{"values":[{"a":0,"b":1677,"c":-0.31,"d":6.23}]},"encoding":{"x":{"field":"a","type":"quantitative"},"x2":{"field":"b"},"y":{"field":"c","type":"quantitative","axis":null},"y2":{"field":"d"}}},
{"data":{"values":[{"x":134,"y":9.37,"t":"Distance from"},{"x":1398,"y":9.37,"t":"start (bp)"}]},"mark":{"type":"text","align":"left","baseline":"alphabetic","fontSize":32,"color":"#000"},"encoding":{"x":{"field":"x","type":"quantitative"},"y":{"field":"y","type":"quantitative","axis":null},"text":{"field":"t"}}},
{"data":{"values":[{"x":891,"y":9.37,"t":"PRELID1"}]},"mark":{"type":"text","align":"left","baseline":"alphabetic","fontSize":32,"fontStyle":"italic","color":"#000"},"encoding":{"x":{"field":"x","type":"quantitative"},"y":{"field":"y","type":"quantitative","axis":null},"text":{"field":"t"}}}
]},
{"layer":[
{"data":{"values":[{"a":2443,"b":865,"r":1,"k":"i"},{"a":563,"b":233,"r":1,"k":"i"},{"a":2443,"b":2398,"r":1,"k":"c"},{"a":2336,"b":2264,"r":1,"k":"c"},{"a":2219,"b":1967,"r":1,"k":"c"},{"a":1922,"b":1704,"r":1,"k":"c"},{"a":1665,"b":1469,"r":1,"k":"c"},{"a":1425,"b":1229,"r":1,"k":"c"},{"a":1189,"b":865,"r":1,"k":"c"},{"a":865,"b":563,"r":1,"k":"u"},{"a":233,"b":43,"r":1,"k":"u"},
{"a":563,"b":412,"r":2,"k":"i"},{"a":1011,"b":865,"r":2,"k":"c"},{"a":865,"b":563,"r":2,"k":"u"},{"a":412,"b":283,"r":2,"k":"u"},
{"a":2426,"b":865,"r":3,"k":"i"},{"a":563,"b":233,"r":3,"k":"i"},{"a":2996,"b":2426,"r":3,"k":"u"},{"a":2426,"b":2398,"r":3,"k":"c"},{"a":2336,"b":2264,"r":3,"k":"c"},{"a":2219,"b":1967,"r":3,"k":"c"},{"a":1922,"b":1704,"r":3,"k":"c"},{"a":1665,"b":1469,"r":3,"k":"c"},{"a":1425,"b":1229,"r":3,"k":"c"},{"a":1189,"b":865,"r":3,"k":"c"},{"a":865,"b":563,"r":3,"k":"u"},{"a":233,"b":43,"r":3,"k":"u"},
{"a":3215,"b":865,"r":4,"k":"i"},{"a":6672,"b":3489,"r":4,"k":"u"},{"a":3489,"b":3215,"r":4,"k":"c"},{"a":3170,"b":3047,"r":4,"k":"c"},{"a":2336,"b":2264,"r":4,"k":"c"},{"a":2219,"b":1967,"r":4,"k":"c"},{"a":1922,"b":1704,"r":4,"k":"c"},{"a":1665,"b":1469,"r":4,"k":"c"},{"a":1425,"b":1229,"r":4,"k":"c"},{"a":1189,"b":865,"r":4,"k":"c"},{"a":865,"b":339,"r":4,"k":"u"}]},
"mark":{"type":"rule","strokeCap":"butt"},"encoding":{"x":{"field":"a","type":"quantitative","scale":{"domain":[6710,8],"range":[1529,2012],"nice":false,"zero":false},"axis":{"orient":"bottom","offset":-93.5,"values":[6000,4000,2000],"format":"d","title":null,"domain":false,"tickColor":"#b3b3b3","tickSize":7,"tickWidth":2}},"x2":{"field":"b"},"y":{"field":"r","type":"quantitative","scale":{"domain":[-0.244,4.94],"range":[1506.5,1640.5],"nice":false,"zero":false},"axis":null},"color":{"field":"k","type":"nominal","legend":null,"scale":{"domain":["i","u","c"],"range":["#565b5d","#b5b5b5","#565b5d"]}},"strokeWidth":{"field":"k","type":"nominal","legend":null,"scale":{"type":"ordinal","domain":["i","u","c"],"range":[3,13.5,13.5]}}}},
{"mark":{"type":"rect","fill":"transparent","stroke":"#b3b3b3","strokeWidth":2.5},"data":{"values":[{"a":6710,"b":8,"c":-0.244,"d":4.94}]},"encoding":{"x":{"field":"a","type":"quantitative"},"x2":{"field":"b"},"y":{"field":"c","type":"quantitative","axis":null},"y2":{"field":"d"}}},
{"data":{"values":[{"x":5794,"y":7.43,"t":"Distance from"},{"x":1562,"y":7.43,"t":"start (bp)"}]},"mark":{"type":"text","align":"left","baseline":"alphabetic","fontSize":32,"color":"#000"},"encoding":{"x":{"field":"x","type":"quantitative"},"y":{"field":"y","type":"quantitative","axis":null},"text":{"field":"t"}}},
{"data":{"values":[{"x":2866,"y":7.43,"t":"ARSB"}]},"mark":{"type":"text","align":"left","baseline":"alphabetic","fontSize":32,"fontStyle":"italic","color":"#000"},"encoding":{"x":{"field":"x","type":"quantitative"},"y":{"field":"y","type":"quantitative","axis":null},"text":{"field":"t"}}}
]}
]}
